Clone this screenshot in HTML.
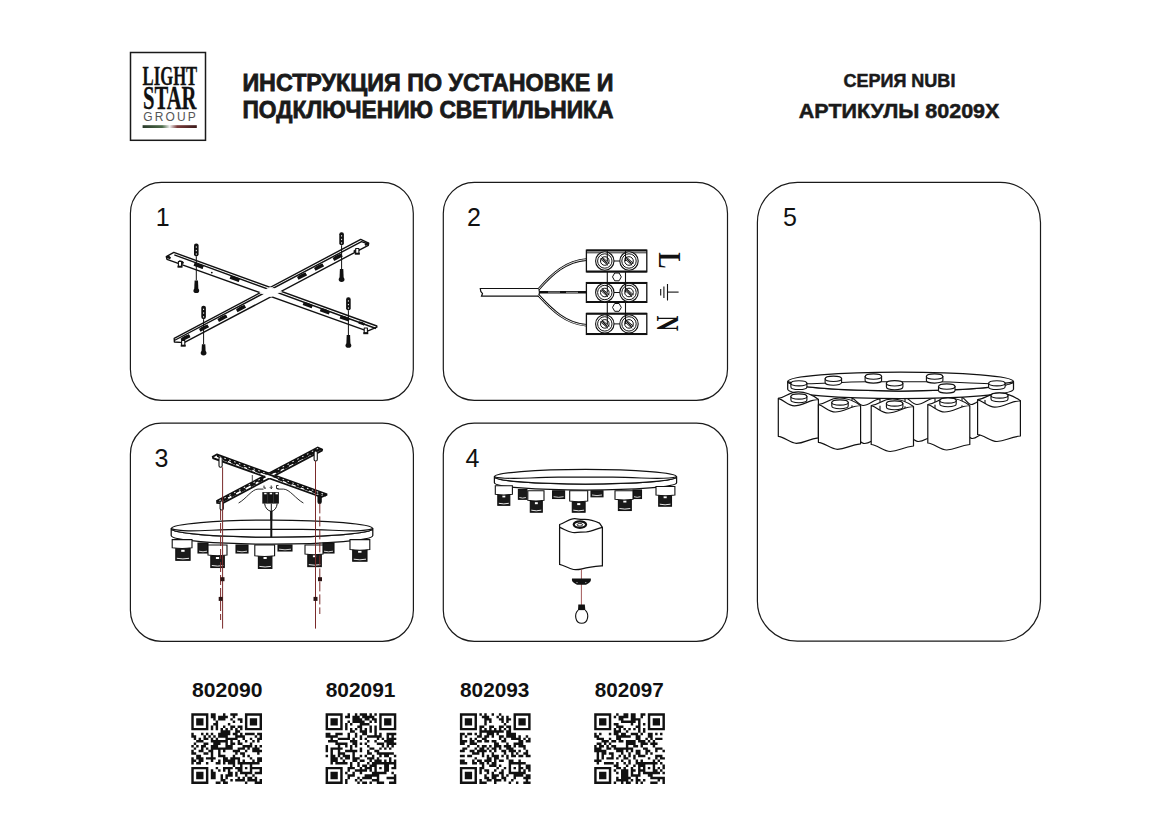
<!DOCTYPE html>
<html><head><meta charset="utf-8">
<style>
html,body{margin:0;padding:0;background:#fff;width:1169px;height:826px;overflow:hidden}
svg{display:block}
.sans{font-family:"Liberation Sans",sans-serif}
.serif{font-family:"Liberation Serif",serif}
</style></head><body>
<svg width="1169" height="826" viewBox="0 0 1169 826">
<rect x="0" y="0" width="1169" height="826" fill="#fff"/>

<g id="logo">
<rect x="130.5" y="52.5" width="75" height="87.8" fill="none" stroke="#1a1a1a" stroke-width="1.5"/>
<text class="serif" x="142.6" y="84.8" font-size="28.3" font-weight="bold" textLength="54.6" lengthAdjust="spacingAndGlyphs" fill="#111" stroke="#111" stroke-width="0.3">LIGHT</text>
<text class="serif" x="142.9" y="109.3" font-size="33" font-weight="bold" textLength="53.6" lengthAdjust="spacingAndGlyphs" fill="#111" stroke="#111" stroke-width="0.3">STAR</text>
<text class="sans" x="143.2" y="121" font-size="12" textLength="52.6" lengthAdjust="spacing" fill="#555">GROUP</text>
<defs><linearGradient id="itl" x1="0" x2="1" y1="0" y2="0">
<stop offset="0" stop-color="#2a3a2a"/><stop offset="0.36" stop-color="#4a6a48"/><stop offset="0.5" stop-color="#f0f0f0"/><stop offset="0.64" stop-color="#7a3a3a"/><stop offset="1" stop-color="#3a1a1a"/></linearGradient></defs>
<rect x="142.6" y="125.2" width="54.2" height="2.8" fill="url(#itl)"/>
</g>
<g class="sans" font-weight="bold" fill="#1a1a1a" stroke="#1a1a1a" stroke-width="0.8">
<text x="242.4" y="90.6" font-size="24" textLength="371" lengthAdjust="spacingAndGlyphs">ИНСТРУКЦИЯ ПО УСТАНОВКЕ И</text>
<text x="242.4" y="118.4" font-size="24" textLength="371" lengthAdjust="spacingAndGlyphs">ПОДКЛЮЧЕНИЮ СВЕТИЛЬНИКА</text>
</g>
<g class="sans" font-weight="bold" fill="#1a1a1a" stroke="#1a1a1a" stroke-width="0.5">
<text x="843.4" y="86.6" font-size="18" textLength="112" lengthAdjust="spacingAndGlyphs">СЕРИЯ NUBI</text>
<text x="798.8" y="118.3" font-size="20" textLength="200.6" lengthAdjust="spacingAndGlyphs">АРТИКУЛЫ 80209X</text>
</g>
<g fill="none" stroke="#1a1a1a" stroke-width="1.2">
<rect x="130.4" y="182.3" width="282.9" height="218" rx="31"/>
<rect x="443.3" y="182.3" width="284.2" height="218" rx="31"/>
<rect x="130.4" y="423.2" width="283" height="218.1" rx="31"/>
<rect x="443.3" y="423.2" width="284.2" height="218.1" rx="31"/>
<rect x="757.4" y="182.4" width="283.1" height="458.8" rx="40"/>
</g>
<g class="sans" font-size="25" fill="#111">
<text x="155.8" y="225.8">1</text>
<text x="467" y="225.8">2</text>
<text x="154.5" y="466.9">3</text>
<text x="465.5" y="466.9">4</text>
<text x="783" y="225.8">5</text>
</g>
<g id="p1" stroke="#111" stroke-linejoin="round">
<defs><mask id="p1_mA" maskUnits="userSpaceOnUse" x="0" y="0" width="1169" height="826"><rect width="1169" height="826" fill="#fff"/><polygon points="174.2,338.3 360.7,239.4 368.7,243.2 368.3,245.3 184.1,342.6 174.4,342.0" fill="#000"/></mask>
<mask id="p1_mB" maskUnits="userSpaceOnUse" x="0" y="0" width="1169" height="826"><rect width="1169" height="826" fill="#fff"/><polygon points="173.8,252.4 376.8,326.0 376.8,327.2 367.5,331.2 167.0,259.3 166.3,256.6" fill="#000"/></mask></defs>
<polygon points="173.8,252.4 376.8,326.0 376.8,327.2 367.5,331.2 167.0,259.3 166.3,256.6" fill="#fff" stroke="none"/>
<polygon points="174.2,338.3 360.7,239.4 368.7,243.2 368.3,245.3 184.1,342.6 174.4,342.0" fill="#fff" stroke="none"/>
<g mask="url(#p1_mA)" fill="none" stroke="#111" stroke-width="1.40">
<polygon points="173.8,252.4 376.8,326.0 376.8,327.2 367.5,331.2 167.0,259.3 166.3,256.6"/>
<polyline points="174.3,254.9 376.0,328.5"/>
</g>
<g mask="url(#p1_mB)" fill="none" stroke="#111" stroke-width="1.40">
<polygon points="174.2,338.3 360.7,239.4 368.7,243.2 368.3,245.3 184.1,342.6 174.4,342.0"/>
<polyline points="174.3,340.5 361.5,241.6 368.5,244.0"/>
</g>
<path d="M193.8 264.4 l3.3 -0.6 l0 0.0 l2.9 0.0 l3.3 0.6 l0 3.0 Z" transform="rotate(19.8 198.5 265.9)" fill="#111" stroke="none"/>
<rect x="193.8" y="264.3" width="9.5" height="3.2" transform="rotate(19.8 198.5 265.9)" fill="#111" stroke="none"/>
<path d="M229.9 277.4 l3.3 -0.6 l0 0.0 l2.9 0.0 l3.3 0.6 l0 3.0 Z" transform="rotate(19.8 234.7 278.9)" fill="#111" stroke="none"/>
<rect x="229.9" y="277.3" width="9.5" height="3.2" transform="rotate(19.8 234.7 278.9)" fill="#111" stroke="none"/>
<path d="M302.9 303.7 l3.3 -0.6 l0 0.0 l2.9 0.0 l3.3 0.6 l0 3.0 Z" transform="rotate(19.8 307.7 305.2)" fill="#111" stroke="none"/>
<rect x="302.9" y="303.6" width="9.5" height="3.2" transform="rotate(19.8 307.7 305.2)" fill="#111" stroke="none"/>
<path d="M320.1 309.8 l3.3 -0.6 l0 0.0 l2.9 0.0 l3.3 0.6 l0 3.0 Z" transform="rotate(19.8 324.8 311.3)" fill="#111" stroke="none"/>
<rect x="320.1" y="309.7" width="9.5" height="3.2" transform="rotate(19.8 324.8 311.3)" fill="#111" stroke="none"/>
<path d="M339.9 317.0 l3.3 -0.6 l0 0.0 l2.9 0.0 l3.3 0.6 l0 3.0 Z" transform="rotate(19.8 344.7 318.5)" fill="#111" stroke="none"/>
<rect x="339.9" y="316.9" width="9.5" height="3.2" transform="rotate(19.8 344.7 318.5)" fill="#111" stroke="none"/>
<path d="M358.5 322.5 l2.1 -0.6 l0 0.0 l1.8 0.0 l2.1 0.6 l0 2.0 Z" transform="rotate(19.8 361.5 323.5)" fill="#111" stroke="none"/>
<rect x="358.5" y="322.4" width="6.0" height="2.2" transform="rotate(19.8 361.5 323.5)" fill="#111" stroke="none"/>
<path d="M166.5 256.5 l1.4 -0.6 l0 0.0 l1.2 0.0 l1.4 0.6 l0 2.0 Z" transform="rotate(19.8 168.5 257.5)" fill="#111" stroke="none"/>
<rect x="166.5" y="256.4" width="4.0" height="2.2" transform="rotate(19.8 168.5 257.5)" fill="#111" stroke="none"/>
<path d="M178.5 261.3 l1.8 -0.6 l0 0.0 l1.5 0.0 l1.8 0.6 l0 1.8 Z" transform="rotate(19.8 181.0 262.2)" fill="#111" stroke="none"/>
<rect x="178.5" y="261.2" width="5.0" height="2.0" transform="rotate(19.8 181.0 262.2)" fill="#111" stroke="none"/>
<path d="M180.7 336.5 l3.3 -0.6 l0 0.0 l2.9 0.0 l3.3 0.6 l0 3.0 Z" transform="rotate(-27.9 185.4 338.0)" fill="#111" stroke="none"/>
<rect x="180.7" y="336.4" width="9.5" height="3.2" transform="rotate(-27.9 185.4 338.0)" fill="#111" stroke="none"/>
<path d="M199.2 326.7 l3.3 -0.6 l0 0.0 l2.9 0.0 l3.3 0.6 l0 3.0 Z" transform="rotate(-27.9 203.9 328.2)" fill="#111" stroke="none"/>
<rect x="199.2" y="326.6" width="9.5" height="3.2" transform="rotate(-27.9 203.9 328.2)" fill="#111" stroke="none"/>
<path d="M217.7 316.9 l3.3 -0.6 l0 0.0 l2.9 0.0 l3.3 0.6 l0 3.0 Z" transform="rotate(-27.9 222.4 318.4)" fill="#111" stroke="none"/>
<rect x="217.7" y="316.8" width="9.5" height="3.2" transform="rotate(-27.9 222.4 318.4)" fill="#111" stroke="none"/>
<path d="M236.2 307.1 l3.3 -0.6 l0 0.0 l2.9 0.0 l3.3 0.6 l0 3.0 Z" transform="rotate(-27.9 240.9 308.6)" fill="#111" stroke="none"/>
<rect x="236.2" y="307.0" width="9.5" height="3.2" transform="rotate(-27.9 240.9 308.6)" fill="#111" stroke="none"/>
<path d="M297.2 274.7 l3.3 -0.6 l0 0.0 l2.9 0.0 l3.3 0.6 l0 3.0 Z" transform="rotate(-27.9 302.0 276.2)" fill="#111" stroke="none"/>
<rect x="297.2" y="274.6" width="9.5" height="3.2" transform="rotate(-27.9 302.0 276.2)" fill="#111" stroke="none"/>
<path d="M314.2 265.7 l3.3 -0.6 l0 0.0 l2.9 0.0 l3.3 0.6 l0 3.0 Z" transform="rotate(-27.9 319.0 267.2)" fill="#111" stroke="none"/>
<rect x="314.2" y="265.6" width="9.5" height="3.2" transform="rotate(-27.9 319.0 267.2)" fill="#111" stroke="none"/>
<path d="M332.9 255.8 l3.3 -0.6 l0 0.0 l2.9 0.0 l3.3 0.6 l0 3.0 Z" transform="rotate(-27.9 337.6 257.3)" fill="#111" stroke="none"/>
<rect x="332.9" y="255.7" width="9.5" height="3.2" transform="rotate(-27.9 337.6 257.3)" fill="#111" stroke="none"/>
<path d="M353.5 249.5 l2.1 -0.6 l0 0.0 l1.8 0.0 l2.1 0.6 l0 2.0 Z" transform="rotate(-27.9 356.5 250.5)" fill="#111" stroke="none"/>
<rect x="353.5" y="249.4" width="6.0" height="2.2" transform="rotate(-27.9 356.5 250.5)" fill="#111" stroke="none"/>
<path d="M364.8 243.3 l1.4 -0.6 l0 0.0 l1.2 0.0 l1.4 0.6 l0 1.8 Z" transform="rotate(-27.9 366.8 244.2)" fill="#111" stroke="none"/>
<rect x="364.8" y="243.2" width="4.0" height="2.0" transform="rotate(-27.9 366.8 244.2)" fill="#111" stroke="none"/>
<circle cx="211.8" cy="272.6" r="0.9" fill="#111" stroke="none"/>
<rect x="178.4" y="261.5" width="3.2" height="5" fill="#fff" stroke-width="1.1"/>
<rect x="177.5" y="265.7" width="5" height="2" fill="#111" stroke="none"/>
<rect x="364.2" y="328.0" width="3.2" height="5" fill="#fff" stroke-width="1.1"/>
<rect x="363.3" y="332.2" width="5" height="2" fill="#111" stroke="none"/>
<rect x="181.6" y="340.5" width="3.2" height="5" fill="#fff" stroke-width="1.1"/>
<rect x="180.7" y="344.7" width="5" height="2" fill="#111" stroke="none"/>
<rect x="355.7" y="248.5" width="3.2" height="5" fill="#fff" stroke-width="1.1"/>
<rect x="354.8" y="252.7" width="5" height="2" fill="#111" stroke="none"/>
<line x1="196.3" y1="256.4" x2="196.3" y2="280.4" stroke-width="1"/>
<rect x="194.0" y="243.4" width="4.6" height="13.0" rx="2.1" fill="#111" stroke="none"/>
<rect x="195.8" y="246.4" width="1" height="1.3" fill="#fff" stroke="none"/>
<rect x="195.8" y="249.9" width="1" height="1.3" fill="#fff" stroke="none"/>
<rect x="195.8" y="253.4" width="1" height="1.3" fill="#fff" stroke="none"/>
<path d="M194.6 280.4 L198.0 280.4 L198.4 290.0 L194.2 290.0 Z" fill="#111" stroke="none"/>
<ellipse cx="196.3" cy="290.8" rx="2.9" ry="2.3" fill="#111" stroke="none"/>
<line x1="341.6" y1="245.3" x2="341.6" y2="269.0" stroke-width="1"/>
<rect x="339.3" y="232.2" width="4.6" height="13.1" rx="2.1" fill="#111" stroke="none"/>
<rect x="341.1" y="235.2" width="1" height="1.3" fill="#fff" stroke="none"/>
<rect x="341.1" y="238.8" width="1" height="1.3" fill="#fff" stroke="none"/>
<rect x="341.1" y="242.3" width="1" height="1.3" fill="#fff" stroke="none"/>
<path d="M339.9 269.0 L343.3 269.0 L343.7 278.8 L339.5 278.8 Z" fill="#111" stroke="none"/>
<ellipse cx="341.6" cy="279.6" rx="2.9" ry="2.3" fill="#111" stroke="none"/>
<line x1="203.6" y1="319.2" x2="203.6" y2="344.2" stroke-width="1"/>
<rect x="201.3" y="305.7" width="4.6" height="13.5" rx="2.1" fill="#111" stroke="none"/>
<rect x="203.1" y="308.7" width="1" height="1.3" fill="#fff" stroke="none"/>
<rect x="203.1" y="312.4" width="1" height="1.3" fill="#fff" stroke="none"/>
<rect x="203.1" y="316.2" width="1" height="1.3" fill="#fff" stroke="none"/>
<path d="M201.9 344.2 L205.3 344.2 L205.7 352.3 L201.5 352.3 Z" fill="#111" stroke="none"/>
<ellipse cx="203.6" cy="353.1" rx="2.9" ry="2.3" fill="#111" stroke="none"/>
<line x1="348.4" y1="310.4" x2="348.4" y2="335.0" stroke-width="1"/>
<rect x="346.1" y="297.3" width="4.6" height="13.1" rx="2.1" fill="#111" stroke="none"/>
<rect x="347.9" y="300.3" width="1" height="1.3" fill="#fff" stroke="none"/>
<rect x="347.9" y="303.9" width="1" height="1.3" fill="#fff" stroke="none"/>
<rect x="347.9" y="307.4" width="1" height="1.3" fill="#fff" stroke="none"/>
<path d="M346.7 335.0 L350.1 335.0 L350.5 344.7 L346.3 344.7 Z" fill="#111" stroke="none"/>
<ellipse cx="348.4" cy="345.5" rx="2.9" ry="2.3" fill="#111" stroke="none"/>
</g>
<g id="p2" stroke="#111" fill="none">
<path d="M480.3 288.5 L538.4 288.5 Q540.5 292.3 538.4 296.2 L481.5 296.2 L482.5 293.5 L480.8 291.5 Z" fill="#fff" stroke-width="1.2"/>
<path d="M538.4 289.5 C552 274 566 261 586.4 259.6" stroke-width="2.6"/>
<path d="M538.4 289.5 C552 274 566 261 586.4 259.6" stroke="#fff" stroke-width="0.9"/>
<path d="M538.4 295.2 C552 310 566 324 586.4 325.3" stroke-width="2.6"/>
<path d="M538.4 295.2 C552 310 566 324 586.4 325.3" stroke="#fff" stroke-width="0.9"/>
<path d="M539.5 292.2 L586.4 292.2" stroke-width="2.6"/>
<path d="M548 292.1 L560 292.1 M566 292.3 L578 292.3" stroke="#fff" stroke-width="0.6"/>
<rect x="607.3" y="261" width="18.2" height="62.3" fill="#fff" stroke-width="1.1"/>
<path d="M612.5 276.9 l2.2 -3.9 l4.4 0 l2.2 3.9 l-2.2 3.9 l-4.4 0 Z" stroke-width="1"/>
<path d="M612.5 307.4 l2.2 -3.9 l4.4 0 l2.2 3.9 l-2.2 3.9 l-4.4 0 Z" stroke-width="1"/>
<rect x="586.4" y="250.2" width="60.4" height="21.6" fill="#fff" stroke-width="1.3"/>
<line x1="586.4" y1="250.5" x2="646.8" y2="250.5" stroke-width="2"/>
<line x1="586.4" y1="271.5" x2="646.8" y2="271.5" stroke-width="2"/>
<line x1="586.4" y1="252.8" x2="646.8" y2="252.8" stroke-width="0.9"/>
<circle cx="604.8" cy="261.0" r="9.2" fill="#fff" stroke-width="1.1"/>
<circle cx="604.8" cy="261.0" r="7.2" stroke-width="1"/>
<circle cx="604.8" cy="261.0" r="4.3" stroke-width="1"/>
<path d="M600.2 258.6 L608.0 265.4 M601.6 256.6 L609.4 263.4" stroke-width="0.9"/>
<path d="M602.2 258.4 L607.4 263.6" stroke-width="1.3"/>
<circle cx="629.0" cy="261.0" r="9.2" fill="#fff" stroke-width="1.1"/>
<circle cx="629.0" cy="261.0" r="7.2" stroke-width="1"/>
<circle cx="629.0" cy="261.0" r="4.3" stroke-width="1"/>
<path d="M624.4 258.6 L632.2 265.4 M625.8 256.6 L633.6 263.4" stroke-width="0.9"/>
<path d="M626.4 258.4 L631.6 263.6" stroke-width="1.3"/>
<line x1="614" y1="261.0" x2="619.8" y2="261.0" stroke-width="1"/>
<line x1="607.3" y1="250.2" x2="607.3" y2="261.0" stroke-width="1.1"/>
<line x1="625.5" y1="250.2" x2="625.5" y2="261.0" stroke-width="1.1"/>
<rect x="586.4" y="282.6" width="60.4" height="19.7" fill="#fff" stroke-width="1.3"/>
<line x1="586.4" y1="282.9" x2="646.8" y2="282.9" stroke-width="2"/>
<line x1="586.4" y1="302.0" x2="646.8" y2="302.0" stroke-width="2"/>
<circle cx="604.8" cy="292.5" r="9.2" fill="#fff" stroke-width="1.1"/>
<circle cx="604.8" cy="292.5" r="7.2" stroke-width="1"/>
<circle cx="604.8" cy="292.5" r="4.3" stroke-width="1"/>
<path d="M600.2 290.1 L608.0 296.9 M601.6 288.1 L609.4 294.9" stroke-width="0.9"/>
<path d="M602.2 289.9 L607.4 295.1" stroke-width="1.3"/>
<circle cx="629.0" cy="292.5" r="9.2" fill="#fff" stroke-width="1.1"/>
<circle cx="629.0" cy="292.5" r="7.2" stroke-width="1"/>
<circle cx="629.0" cy="292.5" r="4.3" stroke-width="1"/>
<path d="M624.4 290.1 L632.2 296.9 M625.8 288.1 L633.6 294.9" stroke-width="0.9"/>
<path d="M626.4 289.9 L631.6 295.1" stroke-width="1.3"/>
<line x1="614" y1="292.5" x2="619.8" y2="292.5" stroke-width="1"/>
<line x1="607.3" y1="282.6" x2="607.3" y2="292.5" stroke-width="1.1"/>
<line x1="625.5" y1="282.6" x2="625.5" y2="292.5" stroke-width="1.1"/>
<rect x="586.4" y="313.5" width="60.4" height="20.9" fill="#fff" stroke-width="1.3"/>
<line x1="586.4" y1="313.8" x2="646.8" y2="313.8" stroke-width="2"/>
<line x1="586.4" y1="334.1" x2="646.8" y2="334.1" stroke-width="2"/>
<circle cx="604.8" cy="323.9" r="9.2" fill="#fff" stroke-width="1.1"/>
<circle cx="604.8" cy="323.9" r="7.2" stroke-width="1"/>
<circle cx="604.8" cy="323.9" r="4.3" stroke-width="1"/>
<path d="M600.2 321.6 L608.0 328.3 M601.6 319.6 L609.4 326.3" stroke-width="0.9"/>
<path d="M602.2 321.3 L607.4 326.6" stroke-width="1.3"/>
<circle cx="629.0" cy="323.9" r="9.2" fill="#fff" stroke-width="1.1"/>
<circle cx="629.0" cy="323.9" r="7.2" stroke-width="1"/>
<circle cx="629.0" cy="323.9" r="4.3" stroke-width="1"/>
<path d="M624.4 321.6 L632.2 328.3 M625.8 319.6 L633.6 326.3" stroke-width="0.9"/>
<path d="M626.4 321.3 L631.6 326.6" stroke-width="1.3"/>
<line x1="614" y1="323.9" x2="619.8" y2="323.9" stroke-width="1"/>
<line x1="607.3" y1="313.5" x2="607.3" y2="323.9" stroke-width="1.1"/>
<line x1="625.5" y1="313.5" x2="625.5" y2="323.9" stroke-width="1.1"/>
</g>
<g class="serif" font-weight="bold" fill="#111">
<text x="0" y="0" font-size="28" transform="translate(658.6 252.2) rotate(90) scale(0.87 1.1)">L</text>
<text x="0" y="0" font-size="28" transform="translate(657.4 315.6) rotate(90) scale(0.77 1.13)">N</text>
</g>
<g stroke="#111" stroke-width="1.1"><line x1="660.7" y1="289" x2="660.7" y2="295.5"/><line x1="663.9" y1="286.5" x2="663.9" y2="298"/><line x1="667.5" y1="284" x2="667.5" y2="300.5"/><line x1="667.5" y1="292.1" x2="678.6" y2="292.1"/></g>
<g id="p3">
<g transform="translate(269.5 475.6) scale(0.54) translate(-271.3 -291.5)">
<defs><mask id="p3_mA" maskUnits="userSpaceOnUse" x="0" y="0" width="1169" height="826"><rect width="1169" height="826" fill="#fff"/><polygon points="174.2,338.3 360.7,239.4 368.7,243.2 368.3,245.3 184.1,342.6 174.4,342.0" fill="#000"/></mask>
<mask id="p3_mB" maskUnits="userSpaceOnUse" x="0" y="0" width="1169" height="826"><rect width="1169" height="826" fill="#fff"/><polygon points="173.8,252.4 376.8,326.0 376.8,327.2 367.5,331.2 167.0,259.3 166.3,256.6" fill="#000"/></mask></defs>
<polygon points="173.8,252.4 376.8,326.0 376.8,327.2 367.5,331.2 167.0,259.3 166.3,256.6" fill="#fff" stroke="none"/>
<polygon points="174.2,338.3 360.7,239.4 368.7,243.2 368.3,245.3 184.1,342.6 174.4,342.0" fill="#fff" stroke="none"/>
<g mask="url(#p3_mA)" fill="none" stroke="#111" stroke-width="3.40">
<polygon points="173.8,252.4 376.8,326.0 376.8,327.2 367.5,331.2 167.0,259.3 166.3,256.6"/>
<polyline points="174.3,254.9 376.0,328.5"/>
</g>
<g mask="url(#p3_mB)" fill="none" stroke="#111" stroke-width="3.40">
<polygon points="174.2,338.3 360.7,239.4 368.7,243.2 368.3,245.3 184.1,342.6 174.4,342.0"/>
<polyline points="174.3,340.5 361.5,241.6 368.5,244.0"/>
</g>
<polygon points="173.8,252.4 376.8,326.0 376.0,329.5 174.3,256.5" fill="#111"/>
<polygon points="174.2,338.3 263.0,291.2 264.0,294.5 174.3,342.0" fill="#111"/>
<polygon points="279.0,283.0 360.7,239.4 368.7,243.2 280.0,286.5" fill="#111"/>
<path d="M185.0 260.9 l3.5 -0.6 l0 0.0 l3.0 0.0 l3.5 0.6 l0 3.8 Z" transform="rotate(19.8 190.0 262.8)" fill="#111" stroke="none"/>
<rect x="185.0" y="260.8" width="10.0" height="4.0" transform="rotate(19.8 190.0 262.8)" fill="#111" stroke="none"/>
<path d="M200.0 266.3 l3.5 -0.6 l0 0.0 l3.0 0.0 l3.5 0.6 l0 3.8 Z" transform="rotate(19.8 205.0 268.2)" fill="#111" stroke="none"/>
<rect x="200.0" y="266.2" width="10.0" height="4.0" transform="rotate(19.8 205.0 268.2)" fill="#111" stroke="none"/>
<path d="M215.0 271.7 l3.5 -0.6 l0 0.0 l3.0 0.0 l3.5 0.6 l0 3.8 Z" transform="rotate(19.8 220.0 273.6)" fill="#111" stroke="none"/>
<rect x="215.0" y="271.6" width="10.0" height="4.0" transform="rotate(19.8 220.0 273.6)" fill="#111" stroke="none"/>
<path d="M230.0 277.1 l3.5 -0.6 l0 0.0 l3.0 0.0 l3.5 0.6 l0 3.8 Z" transform="rotate(19.8 235.0 279.0)" fill="#111" stroke="none"/>
<rect x="230.0" y="277.0" width="10.0" height="4.0" transform="rotate(19.8 235.0 279.0)" fill="#111" stroke="none"/>
<path d="M245.0 282.5 l3.5 -0.6 l0 0.0 l3.0 0.0 l3.5 0.6 l0 3.8 Z" transform="rotate(19.8 250.0 284.4)" fill="#111" stroke="none"/>
<rect x="245.0" y="282.4" width="10.0" height="4.0" transform="rotate(19.8 250.0 284.4)" fill="#111" stroke="none"/>
<path d="M287.0 297.6 l3.5 -0.6 l0 0.0 l3.0 0.0 l3.5 0.6 l0 3.8 Z" transform="rotate(19.8 292.0 299.5)" fill="#111" stroke="none"/>
<rect x="287.0" y="297.5" width="10.0" height="4.0" transform="rotate(19.8 292.0 299.5)" fill="#111" stroke="none"/>
<path d="M302.7 303.3 l3.5 -0.6 l0 0.0 l3.0 0.0 l3.5 0.6 l0 3.8 Z" transform="rotate(19.8 307.7 305.2)" fill="#111" stroke="none"/>
<rect x="302.7" y="303.2" width="10.0" height="4.0" transform="rotate(19.8 307.7 305.2)" fill="#111" stroke="none"/>
<path d="M319.8 309.4 l3.5 -0.6 l0 0.0 l3.0 0.0 l3.5 0.6 l0 3.8 Z" transform="rotate(19.8 324.8 311.3)" fill="#111" stroke="none"/>
<rect x="319.8" y="309.3" width="10.0" height="4.0" transform="rotate(19.8 324.8 311.3)" fill="#111" stroke="none"/>
<path d="M335.0 314.9 l3.5 -0.6 l0 0.0 l3.0 0.0 l3.5 0.6 l0 3.8 Z" transform="rotate(19.8 340.0 316.8)" fill="#111" stroke="none"/>
<rect x="335.0" y="314.8" width="10.0" height="4.0" transform="rotate(19.8 340.0 316.8)" fill="#111" stroke="none"/>
<path d="M350.0 320.3 l3.5 -0.6 l0 0.0 l3.0 0.0 l3.5 0.6 l0 3.8 Z" transform="rotate(19.8 355.0 322.2)" fill="#111" stroke="none"/>
<rect x="350.0" y="320.2" width="10.0" height="4.0" transform="rotate(19.8 355.0 322.2)" fill="#111" stroke="none"/>
<path d="M185.0 333.7 l3.5 -0.6 l0 0.0 l3.0 0.0 l3.5 0.6 l0 3.8 Z" transform="rotate(-27.9 190.0 335.6)" fill="#111" stroke="none"/>
<rect x="185.0" y="333.6" width="10.0" height="4.0" transform="rotate(-27.9 190.0 335.6)" fill="#111" stroke="none"/>
<path d="M200.0 325.7 l3.5 -0.6 l0 0.0 l3.0 0.0 l3.5 0.6 l0 3.8 Z" transform="rotate(-27.9 205.0 327.6)" fill="#111" stroke="none"/>
<rect x="200.0" y="325.6" width="10.0" height="4.0" transform="rotate(-27.9 205.0 327.6)" fill="#111" stroke="none"/>
<path d="M217.4 316.5 l3.5 -0.6 l0 0.0 l3.0 0.0 l3.5 0.6 l0 3.8 Z" transform="rotate(-27.9 222.4 318.4)" fill="#111" stroke="none"/>
<rect x="217.4" y="316.4" width="10.0" height="4.0" transform="rotate(-27.9 222.4 318.4)" fill="#111" stroke="none"/>
<path d="M235.9 306.7 l3.5 -0.6 l0 0.0 l3.0 0.0 l3.5 0.6 l0 3.8 Z" transform="rotate(-27.9 240.9 308.6)" fill="#111" stroke="none"/>
<rect x="235.9" y="306.6" width="10.0" height="4.0" transform="rotate(-27.9 240.9 308.6)" fill="#111" stroke="none"/>
<path d="M250.0 299.2 l3.5 -0.6 l0 0.0 l3.0 0.0 l3.5 0.6 l0 3.8 Z" transform="rotate(-27.9 255.0 301.1)" fill="#111" stroke="none"/>
<rect x="250.0" y="299.1" width="10.0" height="4.0" transform="rotate(-27.9 255.0 301.1)" fill="#111" stroke="none"/>
<path d="M282.0 282.2 l3.5 -0.6 l0 0.0 l3.0 0.0 l3.5 0.6 l0 3.8 Z" transform="rotate(-27.9 287.0 284.1)" fill="#111" stroke="none"/>
<rect x="282.0" y="282.1" width="10.0" height="4.0" transform="rotate(-27.9 287.0 284.1)" fill="#111" stroke="none"/>
<path d="M297.0 274.3 l3.5 -0.6 l0 0.0 l3.0 0.0 l3.5 0.6 l0 3.8 Z" transform="rotate(-27.9 302.0 276.2)" fill="#111" stroke="none"/>
<rect x="297.0" y="274.2" width="10.0" height="4.0" transform="rotate(-27.9 302.0 276.2)" fill="#111" stroke="none"/>
<path d="M314.0 265.3 l3.5 -0.6 l0 0.0 l3.0 0.0 l3.5 0.6 l0 3.8 Z" transform="rotate(-27.9 319.0 267.2)" fill="#111" stroke="none"/>
<rect x="314.0" y="265.2" width="10.0" height="4.0" transform="rotate(-27.9 319.0 267.2)" fill="#111" stroke="none"/>
<path d="M332.6 255.4 l3.5 -0.6 l0 0.0 l3.0 0.0 l3.5 0.6 l0 3.8 Z" transform="rotate(-27.9 337.6 257.3)" fill="#111" stroke="none"/>
<rect x="332.6" y="255.3" width="10.0" height="4.0" transform="rotate(-27.9 337.6 257.3)" fill="#111" stroke="none"/>
<path d="M347.0 247.8 l3.5 -0.6 l0 0.0 l3.0 0.0 l3.5 0.6 l0 3.8 Z" transform="rotate(-27.9 352.0 249.7)" fill="#111" stroke="none"/>
<rect x="347.0" y="247.7" width="10.0" height="4.0" transform="rotate(-27.9 352.0 249.7)" fill="#111" stroke="none"/>
<rect x="178.5" y="255.7" width="3" height="1.6" fill="#fff" transform="rotate(19.8 180.0 256.5)"/>
<rect x="187.5" y="259.0" width="3" height="1.6" fill="#fff" transform="rotate(19.8 189.0 259.8)"/>
<rect x="196.5" y="262.3" width="3" height="1.6" fill="#fff" transform="rotate(19.8 198.0 263.1)"/>
<rect x="205.5" y="265.5" width="3" height="1.6" fill="#fff" transform="rotate(19.8 207.0 266.3)"/>
<rect x="214.5" y="268.8" width="3" height="1.6" fill="#fff" transform="rotate(19.8 216.0 269.6)"/>
<rect x="223.5" y="272.1" width="3" height="1.6" fill="#fff" transform="rotate(19.8 225.0 272.9)"/>
<rect x="232.5" y="275.3" width="3" height="1.6" fill="#fff" transform="rotate(19.8 234.0 276.1)"/>
<rect x="241.5" y="278.6" width="3" height="1.6" fill="#fff" transform="rotate(19.8 243.0 279.4)"/>
<rect x="250.5" y="281.8" width="3" height="1.6" fill="#fff" transform="rotate(19.8 252.0 282.6)"/>
<rect x="259.5" y="285.1" width="3" height="1.6" fill="#fff" transform="rotate(19.8 261.0 285.9)"/>
<rect x="286.5" y="294.9" width="3" height="1.6" fill="#fff" transform="rotate(19.8 288.0 295.7)"/>
<rect x="295.5" y="298.2" width="3" height="1.6" fill="#fff" transform="rotate(19.8 297.0 299.0)"/>
<rect x="304.5" y="301.4" width="3" height="1.6" fill="#fff" transform="rotate(19.8 306.0 302.2)"/>
<rect x="313.5" y="304.7" width="3" height="1.6" fill="#fff" transform="rotate(19.8 315.0 305.5)"/>
<rect x="322.5" y="307.9" width="3" height="1.6" fill="#fff" transform="rotate(19.8 324.0 308.7)"/>
<rect x="331.5" y="311.2" width="3" height="1.6" fill="#fff" transform="rotate(19.8 333.0 312.0)"/>
<rect x="340.5" y="314.5" width="3" height="1.6" fill="#fff" transform="rotate(19.8 342.0 315.3)"/>
<rect x="349.5" y="317.7" width="3" height="1.6" fill="#fff" transform="rotate(19.8 351.0 318.5)"/>
<rect x="358.5" y="321.0" width="3" height="1.6" fill="#fff" transform="rotate(19.8 360.0 321.8)"/>
<rect x="367.5" y="324.3" width="3" height="1.6" fill="#fff" transform="rotate(19.8 369.0 325.1)"/>
<rect x="178.5" y="336.3" width="3" height="1.6" fill="#fff" transform="rotate(-27.9 180.0 337.1)"/>
<rect x="187.5" y="331.6" width="3" height="1.6" fill="#fff" transform="rotate(-27.9 189.0 332.4)"/>
<rect x="196.5" y="326.8" width="3" height="1.6" fill="#fff" transform="rotate(-27.9 198.0 327.6)"/>
<rect x="205.5" y="322.0" width="3" height="1.6" fill="#fff" transform="rotate(-27.9 207.0 322.8)"/>
<rect x="214.5" y="317.2" width="3" height="1.6" fill="#fff" transform="rotate(-27.9 216.0 318.0)"/>
<rect x="223.5" y="312.5" width="3" height="1.6" fill="#fff" transform="rotate(-27.9 225.0 313.3)"/>
<rect x="232.5" y="307.7" width="3" height="1.6" fill="#fff" transform="rotate(-27.9 234.0 308.5)"/>
<rect x="241.5" y="302.9" width="3" height="1.6" fill="#fff" transform="rotate(-27.9 243.0 303.7)"/>
<rect x="250.5" y="298.2" width="3" height="1.6" fill="#fff" transform="rotate(-27.9 252.0 299.0)"/>
<rect x="286.5" y="279.1" width="3" height="1.6" fill="#fff" transform="rotate(-27.9 288.0 279.9)"/>
<rect x="295.5" y="274.3" width="3" height="1.6" fill="#fff" transform="rotate(-27.9 297.0 275.1)"/>
<rect x="304.5" y="269.5" width="3" height="1.6" fill="#fff" transform="rotate(-27.9 306.0 270.3)"/>
<rect x="313.5" y="264.8" width="3" height="1.6" fill="#fff" transform="rotate(-27.9 315.0 265.6)"/>
<rect x="322.5" y="260.0" width="3" height="1.6" fill="#fff" transform="rotate(-27.9 324.0 260.8)"/>
<rect x="331.5" y="255.2" width="3" height="1.6" fill="#fff" transform="rotate(-27.9 333.0 256.0)"/>
<rect x="340.5" y="250.5" width="3" height="1.6" fill="#fff" transform="rotate(-27.9 342.0 251.3)"/>
<rect x="349.5" y="245.7" width="3" height="1.6" fill="#fff" transform="rotate(-27.9 351.0 246.5)"/>
<rect x="358.5" y="240.9" width="3" height="1.6" fill="#fff" transform="rotate(-27.9 360.0 241.7)"/>
</g>
<rect x="219.0" y="456.7" width="3.2" height="10.6" rx="1.5" fill="#fff" stroke="#111" stroke-width="1.1"/>
<rect x="314.1" y="451.0" width="3.2" height="10.0" rx="1.5" fill="#fff" stroke="#111" stroke-width="1.1"/>
<rect x="220.1" y="501.0" width="3.2" height="9.0" rx="1.5" fill="#fff" stroke="#111" stroke-width="1.1"/>
<rect x="318.0" y="494.5" width="3.2" height="8.9" rx="1.5" fill="#111" stroke="#111" stroke-width="1.1"/>
<line x1="252.3" y1="475" x2="252.3" y2="481" stroke="#111" stroke-width="0.8"/>
<path d="M238.6 503 C246 499 252 489.1 258 489.1 L263.5 489.1" fill="none" stroke="#111" stroke-width="0.9"/>
<path d="M303.4 503 C296 499 289.5 489.1 283.5 489.1 L277.4 489.1" fill="none" stroke="#111" stroke-width="0.9"/>
<rect x="262.3" y="492.1" width="16.6" height="11.5" fill="#151515"/>
<rect x="264.2" y="492.8" width="2.4" height="1.5" fill="#fff"/>
<rect x="269.7" y="492.8" width="2.4" height="1.5" fill="#fff"/>
<rect x="275.5" y="492.8" width="2.4" height="1.5" fill="#fff"/>
<line x1="267.6" y1="492.1" x2="267.6" y2="503.6" stroke="#555" stroke-width="0.5"/><line x1="273.5" y1="492.1" x2="273.5" y2="503.6" stroke="#555" stroke-width="0.5"/>
<path d="M264 485.6 l0 2.5 l2 0 M271.2 485.5 l0 3 m-1.3 -1.2 l1.3 1.3 l1.3 -1.3 M276.5 485.5 l0 3 l2 0 M276.5 485.5 l2 0" fill="none" stroke="#111" stroke-width="0.9"/>
<path d="M264.6 503.6 Q265.5 510 271.3 511.5 M277.2 503.6 Q276.5 510 271.3 511.5 M271.3 503.6 L271.3 511.5" fill="none" stroke="#111" stroke-width="1"/>
<line x1="271.3" y1="511" x2="271.3" y2="537" stroke="#111" stroke-width="2"/>
<path d="M171.2 528.6 A100.8 8.6 0 0 0 372.8 528.6 L372.8 535.6 A100.8 8.6 0 0 1 171.2 535.6 Z" fill="#fff" stroke="#111" stroke-width="1.25"/>
<ellipse cx="272.0" cy="528.6" rx="100.8" ry="8.6" fill="#fff" stroke="#111" stroke-width="1.25"/>
<path d="M171.2 528.6 C185.3 533.2 209.5 529.4 241.8 529.4 L302.2 529.4 C334.5 529.4 358.7 533.2 372.8 528.6" fill="none" stroke="#111" stroke-width="1.12"/>
<line x1="271.3" y1="511" x2="271.3" y2="537.2" stroke="#111" stroke-width="2"/>
<rect x="198.0" y="543.0" width="10.0" height="10.0" fill="#1a1a1a" stroke="#111" stroke-width="1.10"/>
<path d="M199.0 551.2 Q203.0 552.4 207.0 551.2" fill="none" stroke="#fff" stroke-width="0.8"/>
<rect x="236.0" y="545.0" width="12.0" height="8.0" fill="#1a1a1a" stroke="#111" stroke-width="1.10"/>
<path d="M237.0 551.2 Q242.0 552.4 247.0 551.2" fill="none" stroke="#fff" stroke-width="0.8"/>
<rect x="278.0" y="545.0" width="14.0" height="6.0" fill="#1a1a1a" stroke="#111" stroke-width="1.10"/>
<path d="M279.0 549.2 Q285.0 550.4 291.0 549.2" fill="none" stroke="#fff" stroke-width="0.8"/>
<rect x="323.0" y="543.0" width="11.0" height="10.0" fill="#1a1a1a" stroke="#111" stroke-width="1.10"/>
<path d="M324.0 551.2 Q328.5 552.4 333.0 551.2" fill="none" stroke="#fff" stroke-width="0.8"/>
<rect x="175.8" y="548.6" width="14.3" height="11.7" fill="#1a1a1a" stroke="#111" stroke-width="1.10"/>
<rect x="181.2" y="549.8" width="3.4" height="2.0" fill="#fff"/>
<path d="M176.8 558.3 Q182.9 559.5 189.1 558.3" fill="none" stroke="#fff" stroke-width="0.9"/>
<path d="M172.2 539.6 L172.2 547.7 Q182.1 549.2 192.0 547.7 L192.0 539.6 Z" fill="#fff" stroke="#111" stroke-width="1.10"/>
<rect x="210.8" y="555.8" width="13.5" height="11.7" fill="#1a1a1a" stroke="#111" stroke-width="1.10"/>
<rect x="215.9" y="557.0" width="3.2" height="2.0" fill="#fff"/>
<path d="M211.8 565.5 Q217.6 566.7 223.3 565.5" fill="none" stroke="#fff" stroke-width="0.9"/>
<path d="M208.0 545.0 L208.0 555.0 Q217.5 556.5 227.0 555.0 L227.0 545.0 Z" fill="#fff" stroke="#111" stroke-width="1.10"/>
<rect x="258.4" y="555.8" width="13.5" height="12.6" fill="#1a1a1a" stroke="#111" stroke-width="1.10"/>
<rect x="263.5" y="557.0" width="3.2" height="2.0" fill="#fff"/>
<path d="M259.4 566.4 Q265.1 567.6 270.9 566.4" fill="none" stroke="#fff" stroke-width="0.9"/>
<path d="M254.8 545.0 L254.8 555.8 Q264.7 557.3 274.6 555.8 L274.6 545.0 Z" fill="#fff" stroke="#111" stroke-width="1.10"/>
<rect x="307.8" y="554.0" width="13.5" height="12.6" fill="#1a1a1a" stroke="#111" stroke-width="1.10"/>
<rect x="312.9" y="555.2" width="3.2" height="2.0" fill="#fff"/>
<path d="M308.8 564.6 Q314.6 565.8 320.3 564.6" fill="none" stroke="#fff" stroke-width="0.9"/>
<path d="M305.0 545.0 L305.0 554.0 Q314.0 555.5 323.0 554.0 L323.0 545.0 Z" fill="#fff" stroke="#111" stroke-width="1.10"/>
<rect x="352.7" y="549.5" width="14.3" height="11.7" fill="#1a1a1a" stroke="#111" stroke-width="1.10"/>
<rect x="358.1" y="550.7" width="3.4" height="2.0" fill="#fff"/>
<path d="M353.7 559.2 Q359.9 560.4 366.0 559.2" fill="none" stroke="#fff" stroke-width="0.9"/>
<path d="M350.0 539.6 L350.0 549.5 Q359.9 551.0 369.8 549.5 L369.8 539.6 Z" fill="#fff" stroke="#111" stroke-width="1.10"/>
<g stroke="#7a2a2a" stroke-width="1">
<line x1="222.6" y1="467.3" x2="222.6" y2="628.6"/>
<line x1="220.6" y1="510" x2="220.6" y2="620" stroke-dasharray="10 3"/>
<line x1="315.5" y1="461" x2="315.5" y2="628.6"/>
<line x1="319.8" y1="503.4" x2="319.8" y2="614" stroke-dasharray="10 3"/>
</g>
<rect x="220.5" y="577.2" width="4" height="4" fill="#2a1212"/>
<rect x="218.7" y="596.9" width="4" height="4" fill="#2a1212"/>
<rect x="318.0" y="577.2" width="4" height="4" fill="#2a1212"/>
<rect x="313.5" y="596.9" width="4" height="4" fill="#2a1212"/>
</g>
<g id="p4">
<path d="M494.4 476.7 A91.1 7.3 0 0 0 676.6 476.7 L676.6 482.7 A91.1 7.3 0 0 1 494.4 482.7 Z" fill="#fff" stroke="#111" stroke-width="1.25"/>
<ellipse cx="585.5" cy="476.7" rx="91.1" ry="7.3" fill="#fff" stroke="#111" stroke-width="1.25"/>
<path d="M494.4 476.7 C507.2 480.6 529.0 477.1 558.2 477.1 L612.8 477.1 C642.0 477.1 663.8 480.6 676.6 476.7" fill="none" stroke="#111" stroke-width="1.12"/>
<rect x="518.4" y="489.5" width="8.5" height="9.8" fill="#1a1a1a" stroke="#111" stroke-width="1.10"/>
<path d="M519.4 497.5 Q522.6 498.7 525.9 497.5" fill="none" stroke="#fff" stroke-width="0.8"/>
<rect x="552.6" y="490.8" width="12.0" height="7.7" fill="#1a1a1a" stroke="#111" stroke-width="1.10"/>
<path d="M553.6 496.7 Q558.6 497.9 563.6 496.7" fill="none" stroke="#fff" stroke-width="0.8"/>
<rect x="591.0" y="490.8" width="12.0" height="6.0" fill="#1a1a1a" stroke="#111" stroke-width="1.10"/>
<path d="M592.0 495.0 Q597.0 496.2 602.0 495.0" fill="none" stroke="#fff" stroke-width="0.8"/>
<rect x="633.0" y="490.0" width="8.5" height="8.5" fill="#1a1a1a" stroke="#111" stroke-width="1.10"/>
<path d="M634.0 496.7 Q637.2 497.9 640.5 496.7" fill="none" stroke="#fff" stroke-width="0.8"/>
<rect x="497.8" y="494.2" width="12.0" height="11.1" fill="#1a1a1a" stroke="#111" stroke-width="1.10"/>
<rect x="502.4" y="495.4" width="2.9" height="2.0" fill="#fff"/>
<path d="M498.8 503.3 Q503.8 504.5 508.8 503.3" fill="none" stroke="#fff" stroke-width="0.9"/>
<path d="M495.3 485.7 L495.3 494.2 Q503.9 495.7 512.4 494.2 L512.4 485.7 Z" fill="#fff" stroke="#111" stroke-width="1.10"/>
<rect x="530.3" y="501.0" width="12.0" height="11.2" fill="#1a1a1a" stroke="#111" stroke-width="1.10"/>
<rect x="534.9" y="502.2" width="2.9" height="2.0" fill="#fff"/>
<path d="M531.3 510.2 Q536.3 511.4 541.3 510.2" fill="none" stroke="#fff" stroke-width="0.9"/>
<path d="M527.8 490.8 L527.8 500.2 Q535.9 501.7 544.0 500.2 L544.0 490.8 Z" fill="#fff" stroke="#111" stroke-width="1.10"/>
<rect x="572.3" y="501.9" width="12.8" height="10.3" fill="#1a1a1a" stroke="#111" stroke-width="1.10"/>
<rect x="577.2" y="503.1" width="3.1" height="2.0" fill="#fff"/>
<path d="M573.3 510.2 Q578.7 511.4 584.1 510.2" fill="none" stroke="#fff" stroke-width="0.9"/>
<path d="M569.7 490.8 L569.7 501.0 Q578.7 502.5 587.7 501.0 L587.7 490.8 Z" fill="#fff" stroke="#111" stroke-width="1.10"/>
<rect x="618.4" y="499.3" width="12.9" height="11.2" fill="#1a1a1a" stroke="#111" stroke-width="1.10"/>
<rect x="623.3" y="500.5" width="3.1" height="2.0" fill="#fff"/>
<path d="M619.4 508.5 Q624.8 509.7 630.3 508.5" fill="none" stroke="#fff" stroke-width="0.9"/>
<path d="M615.0 490.8 L615.0 499.3 Q624.0 500.8 633.0 499.3 L633.0 490.8 Z" fill="#fff" stroke="#111" stroke-width="1.10"/>
<rect x="658.7" y="495.0" width="12.8" height="11.2" fill="#1a1a1a" stroke="#111" stroke-width="1.10"/>
<rect x="663.6" y="496.2" width="3.1" height="2.0" fill="#fff"/>
<path d="M659.7 504.2 Q665.1 505.4 670.5 504.2" fill="none" stroke="#fff" stroke-width="0.9"/>
<path d="M656.0 486.5 L656.0 495.0 Q665.5 496.5 674.9 495.0 L674.9 486.5 Z" fill="#fff" stroke="#111" stroke-width="1.10"/>
<path d="M559.6 524.5 C566 522 570 518.5 574.8 518.7 C578 518.8 580 519.6 583.6 519.4 C590 519 595 521 599.5 523.1 L602.4 527.4 L602.4 565.9 C596 566.5 590 567 582.1 568.8 C578 569.8 576 569.8 573.4 569.5 C568 568 564 565.5 559.6 564.4 Z" fill="#fff" stroke="#111" stroke-width="1.25" stroke-linejoin="round"/>
<path d="M559.6 527.4 C564 529 568 532 572.7 532.5 C577 533 582 531.8 586.5 531.8 C592 531.5 597 528.5 602.4 527.4" fill="none" stroke="#111" stroke-width="1.2"/>
<ellipse cx="579.9" cy="524.6" rx="6.2" ry="3.2" fill="#fff" stroke="#111" stroke-width="2.2"/>
<ellipse cx="579.9" cy="524.8" rx="2.8" ry="1.3" fill="#fff" stroke="#111" stroke-width="0.9"/>
<line x1="581.4" y1="569.3" x2="581.4" y2="605" stroke="#8a3030" stroke-width="0.8"/>
<path d="M572 578.4 L590.8 578.4 Q591.5 581.5 588.5 583.2 L586 584.8 L577 584.8 L574.5 583.2 Q571.3 581.5 572 578.4 Z" fill="#111"/>
<path d="M576.5 582.6 l1 0 M585.3 582.6 l1 0" stroke="#fff" stroke-width="0.8"/>
<path d="M578.3 604.4 L584.8 604.4 L585.4 610.4 L578 610.4 Z" fill="#111"/>
<path d="M578.2 610.2 C574 614 575 623.3 581.7 623.3 C588.4 623.3 589.4 614 585.2 610.2" fill="#fff" stroke="#111" stroke-width="1.1"/>
</g>
<g id="p5">
<path d="M852.0 398.0 C856.2 400.0 859.0 405.5 863.2 405.5 C868.8 405.5 874.4 399.0 880.0 399.0 L880.0 438.0 C873.0 439.0 870.2 443.5 864.6 443.5 C860.4 443.5 856.2 437.0 852.0 436.5 Z" fill="#fff" stroke="#111" stroke-width="1.10" stroke-linejoin="round"/>
<path d="M905.0 397.0 C909.5 399.0 912.5 404.5 917.0 404.5 C923.0 404.5 929.0 398.0 935.0 398.0 L935.0 436.0 C927.5 437.0 924.5 441.5 918.5 441.5 C914.0 441.5 909.5 435.0 905.0 434.5 Z" fill="#fff" stroke="#111" stroke-width="1.10" stroke-linejoin="round"/>
<path d="M962.0 397.0 C965.5 399.0 967.8 404.5 971.2 404.5 C975.8 404.5 980.4 398.0 985.0 398.0 L985.0 433.0 C979.2 434.0 977.0 438.5 972.4 438.5 C968.9 438.5 965.5 432.0 962.0 431.5 Z" fill="#fff" stroke="#111" stroke-width="1.10" stroke-linejoin="round"/>
<path d="M787.7 381.6 A112.9 9.4 0 0 0 1013.5 381.6 L1013.5 389.2 A112.9 9.4 0 0 1 787.7 389.2 Z" fill="#fff" stroke="#111" stroke-width="1.25"/>
<ellipse cx="900.6" cy="381.6" rx="112.9" ry="9.4" fill="#fff" stroke="#111" stroke-width="1.25"/>
<path d="M787.7 381.6 C803.5 386.4 830.6 381.8 866.7 381.8 L934.5 381.8 C970.6 381.8 997.7 386.4 1013.5 381.6" fill="none" stroke="#111" stroke-width="1.12"/>
<path d="M825.1 378.8 L825.1 382.6 A8.2 2.7 0 0 0 841.6 382.6 L841.6 378.8 Z" fill="#fff" stroke="#111" stroke-width="1.10"/>
<ellipse cx="833.4" cy="378.8" rx="8.2" ry="2.7" fill="#fff" stroke="#111" stroke-width="1.10"/>
<path d="M865.1 376.6 L865.1 380.4 A8.2 2.7 0 0 0 881.6 380.4 L881.6 376.6 Z" fill="#fff" stroke="#111" stroke-width="1.10"/>
<ellipse cx="873.4" cy="376.6" rx="8.2" ry="2.7" fill="#fff" stroke="#111" stroke-width="1.10"/>
<path d="M926.4 376.6 L926.4 380.4 A8.2 2.7 0 0 0 942.9 380.4 L942.9 376.6 Z" fill="#fff" stroke="#111" stroke-width="1.10"/>
<ellipse cx="934.6" cy="376.6" rx="8.2" ry="2.7" fill="#fff" stroke="#111" stroke-width="1.10"/>
<path d="M790.9 383.3 L790.9 386.9 A8.0 2.6 0 0 0 806.9 386.9 L806.9 383.3 Z" fill="#fff" stroke="#111" stroke-width="1.10"/>
<ellipse cx="798.9" cy="383.3" rx="8.0" ry="2.6" fill="#fff" stroke="#111" stroke-width="1.10"/>
<path d="M886.4 383.3 L886.4 387.1 A8.2 2.7 0 0 0 902.9 387.1 L902.9 383.3 Z" fill="#fff" stroke="#111" stroke-width="1.10"/>
<ellipse cx="894.6" cy="383.3" rx="8.2" ry="2.7" fill="#fff" stroke="#111" stroke-width="1.10"/>
<path d="M938.5 386.6 L938.5 390.4 A8.2 2.7 0 0 0 955.0 390.4 L955.0 386.6 Z" fill="#fff" stroke="#111" stroke-width="1.10"/>
<ellipse cx="946.8" cy="386.6" rx="8.2" ry="2.7" fill="#fff" stroke="#111" stroke-width="1.10"/>
<path d="M988.6 383.3 L988.6 386.9 A8.2 2.6 0 0 0 1005.1 386.9 L1005.1 383.3 Z" fill="#fff" stroke="#111" stroke-width="1.10"/>
<ellipse cx="996.9" cy="383.3" rx="8.2" ry="2.6" fill="#fff" stroke="#111" stroke-width="1.10"/>
<path d="M778.3 398.4 C784.3 400.4 788.3 405.9 794.3 405.9 C802.4 405.9 810.4 399.4 818.4 399.4 L818.4 437.8 C808.4 438.8 804.4 443.3 796.3 443.3 C790.3 443.3 784.3 436.8 778.3 436.3 Z" fill="#fff" stroke="#111" stroke-width="1.20" stroke-linejoin="round"/>
<path d="M778.3 398.4 C786.3 397.4 788.3 391.9 798.3 391.9 C808.4 391.9 814.4 396.4 818.4 399.4" fill="#fff" stroke="#111" stroke-width="1.20" stroke-linejoin="round"/>
<path d="M790.9 396.5 L790.9 400.1 A8.0 2.6 0 0 0 806.9 400.1 L806.9 396.5 Z" fill="#fff" stroke="#111" stroke-width="1.10"/>
<ellipse cx="798.9" cy="396.5" rx="8.0" ry="2.6" fill="#fff" stroke="#111" stroke-width="1.10"/>
<path d="M818.4 404.5 C824.7 406.5 829.0 412.0 835.3 412.0 C843.7 412.0 852.2 405.5 860.6 405.5 L860.6 443.8 C850.0 444.8 845.8 449.3 837.4 449.3 C831.1 449.3 824.7 442.8 818.4 442.3 Z" fill="#fff" stroke="#111" stroke-width="1.20" stroke-linejoin="round"/>
<path d="M818.4 404.5 C826.8 403.5 829.0 398.0 839.5 398.0 C850.0 398.0 856.4 402.5 860.6 405.5" fill="#fff" stroke="#111" stroke-width="1.20" stroke-linejoin="round"/>
<path d="M831.8 402.5 L831.8 406.1 A8.2 2.6 0 0 0 848.2 406.1 L848.2 402.5 Z" fill="#fff" stroke="#111" stroke-width="1.10"/>
<ellipse cx="840.0" cy="402.5" rx="8.2" ry="2.6" fill="#fff" stroke="#111" stroke-width="1.10"/>
<path d="M871.2 405.5 C877.5 407.5 881.8 413.0 888.1 413.0 C896.6 413.0 905.0 406.5 913.5 406.5 L913.5 446.0 C902.9 447.0 898.7 451.5 890.2 451.5 C883.9 451.5 877.5 445.0 871.2 444.5 Z" fill="#fff" stroke="#111" stroke-width="1.20" stroke-linejoin="round"/>
<path d="M871.2 405.5 C879.7 404.5 881.8 399.0 892.4 399.0 C902.9 399.0 909.3 403.5 913.5 406.5" fill="#fff" stroke="#111" stroke-width="1.20" stroke-linejoin="round"/>
<path d="M886.4 403.5 L886.4 407.1 A8.2 2.6 0 0 0 902.9 407.1 L902.9 403.5 Z" fill="#fff" stroke="#111" stroke-width="1.10"/>
<ellipse cx="894.6" cy="403.5" rx="8.2" ry="2.6" fill="#fff" stroke="#111" stroke-width="1.10"/>
<path d="M927.8 404.5 C934.1 406.5 938.3 412.0 944.6 412.0 C953.0 412.0 961.4 405.5 969.8 405.5 L969.8 444.5 C959.3 445.5 955.1 450.0 946.7 450.0 C940.4 450.0 934.1 443.5 927.8 443.0 Z" fill="#fff" stroke="#111" stroke-width="1.20" stroke-linejoin="round"/>
<path d="M927.8 404.5 C936.2 403.5 938.3 398.0 948.8 398.0 C959.3 398.0 965.6 402.5 969.8 405.5" fill="#fff" stroke="#111" stroke-width="1.20" stroke-linejoin="round"/>
<path d="M939.8 400.5 L939.8 404.1 A8.2 2.6 0 0 0 956.2 404.1 L956.2 400.5 Z" fill="#fff" stroke="#111" stroke-width="1.10"/>
<ellipse cx="948.0" cy="400.5" rx="8.2" ry="2.6" fill="#fff" stroke="#111" stroke-width="1.10"/>
<path d="M977.6 399.7 C984.0 401.7 988.3 407.2 994.7 407.2 C1003.3 407.2 1011.8 400.7 1020.4 400.7 L1020.4 436.0 C1009.7 437.0 1005.4 441.5 996.9 441.5 C990.4 441.5 984.0 435.0 977.6 434.5 Z" fill="#fff" stroke="#111" stroke-width="1.20" stroke-linejoin="round"/>
<path d="M977.6 399.7 C986.2 398.7 988.3 393.2 999.0 393.2 C1009.7 393.2 1016.1 397.7 1020.4 400.7" fill="#fff" stroke="#111" stroke-width="1.20" stroke-linejoin="round"/>
<path d="M991.0 395.5 L991.0 399.1 A8.5 2.6 0 0 0 1008.0 399.1 L1008.0 395.5 Z" fill="#fff" stroke="#111" stroke-width="1.10"/>
<ellipse cx="999.5" cy="395.5" rx="8.5" ry="2.6" fill="#fff" stroke="#111" stroke-width="1.10"/>
</g>
<path d="M191.30 713.30h17.07v2.44h-17.07zM210.80 713.30h4.88v2.44h-4.88zM222.99 713.30h2.44v2.44h-2.44zM230.31 713.30h7.31v2.44h-7.31zM244.93 713.30h17.07v2.44h-17.07zM191.30 715.74h2.44v2.44h-2.44zM205.93 715.74h2.44v2.44h-2.44zM210.80 715.74h4.88v2.44h-4.88zM218.12 715.74h9.75v2.44h-9.75zM232.74 715.74h2.44v2.44h-2.44zM244.93 715.74h2.44v2.44h-2.44zM259.56 715.74h2.44v2.44h-2.44zM191.30 718.18h2.44v2.44h-2.44zM196.18 718.18h7.31v2.44h-7.31zM205.93 718.18h2.44v2.44h-2.44zM213.24 718.18h2.44v2.44h-2.44zM218.12 718.18h7.31v2.44h-7.31zM230.31 718.18h2.44v2.44h-2.44zM237.62 718.18h4.88v2.44h-4.88zM244.93 718.18h2.44v2.44h-2.44zM249.81 718.18h7.31v2.44h-7.31zM259.56 718.18h2.44v2.44h-2.44zM191.30 720.61h2.44v2.44h-2.44zM196.18 720.61h7.31v2.44h-7.31zM205.93 720.61h2.44v2.44h-2.44zM215.68 720.61h2.44v2.44h-2.44zM232.74 720.61h2.44v2.44h-2.44zM240.06 720.61h2.44v2.44h-2.44zM244.93 720.61h2.44v2.44h-2.44zM249.81 720.61h7.31v2.44h-7.31zM259.56 720.61h2.44v2.44h-2.44zM191.30 723.05h2.44v2.44h-2.44zM196.18 723.05h7.31v2.44h-7.31zM205.93 723.05h2.44v2.44h-2.44zM213.24 723.05h4.88v2.44h-4.88zM227.87 723.05h2.44v2.44h-2.44zM244.93 723.05h2.44v2.44h-2.44zM249.81 723.05h7.31v2.44h-7.31zM259.56 723.05h2.44v2.44h-2.44zM191.30 725.49h2.44v2.44h-2.44zM205.93 725.49h2.44v2.44h-2.44zM210.80 725.49h2.44v2.44h-2.44zM215.68 725.49h2.44v2.44h-2.44zM222.99 725.49h2.44v2.44h-2.44zM230.31 725.49h4.88v2.44h-4.88zM237.62 725.49h4.88v2.44h-4.88zM244.93 725.49h2.44v2.44h-2.44zM259.56 725.49h2.44v2.44h-2.44zM191.30 727.93h17.07v2.44h-17.07zM210.80 727.93h2.44v2.44h-2.44zM215.68 727.93h2.44v2.44h-2.44zM220.56 727.93h2.44v2.44h-2.44zM225.43 727.93h2.44v2.44h-2.44zM230.31 727.93h2.44v2.44h-2.44zM235.18 727.93h2.44v2.44h-2.44zM240.06 727.93h2.44v2.44h-2.44zM244.93 727.93h17.07v2.44h-17.07zM220.56 730.37h9.75v2.44h-9.75zM235.18 730.37h4.88v2.44h-4.88zM191.30 732.80h2.44v2.44h-2.44zM201.05 732.80h2.44v2.44h-2.44zM205.93 732.80h2.44v2.44h-2.44zM210.80 732.80h2.44v2.44h-2.44zM218.12 732.80h12.19v2.44h-12.19zM232.74 732.80h4.88v2.44h-4.88zM240.06 732.80h2.44v2.44h-2.44zM244.93 732.80h9.75v2.44h-9.75zM257.12 732.80h4.88v2.44h-4.88zM191.30 735.24h4.88v2.44h-4.88zM203.49 735.24h2.44v2.44h-2.44zM208.37 735.24h2.44v2.44h-2.44zM213.24 735.24h2.44v2.44h-2.44zM218.12 735.24h9.75v2.44h-9.75zM235.18 735.24h9.75v2.44h-9.75zM254.69 735.24h2.44v2.44h-2.44zM259.56 735.24h2.44v2.44h-2.44zM193.74 737.68h2.44v2.44h-2.44zM198.61 737.68h2.44v2.44h-2.44zM203.49 737.68h4.88v2.44h-4.88zM210.80 737.68h2.44v2.44h-2.44zM215.68 737.68h2.44v2.44h-2.44zM225.43 737.68h12.19v2.44h-12.19zM242.50 737.68h2.44v2.44h-2.44zM249.81 737.68h2.44v2.44h-2.44zM257.12 737.68h4.88v2.44h-4.88zM196.18 740.12h7.31v2.44h-7.31zM210.80 740.12h17.07v2.44h-17.07zM230.31 740.12h2.44v2.44h-2.44zM237.62 740.12h2.44v2.44h-2.44zM244.93 740.12h2.44v2.44h-2.44zM252.25 740.12h2.44v2.44h-2.44zM257.12 740.12h2.44v2.44h-2.44zM193.74 742.56h2.44v2.44h-2.44zM203.49 742.56h4.88v2.44h-4.88zM213.24 742.56h7.31v2.44h-7.31zM225.43 742.56h2.44v2.44h-2.44zM230.31 742.56h4.88v2.44h-4.88zM237.62 742.56h4.88v2.44h-4.88zM249.81 742.56h2.44v2.44h-2.44zM191.30 744.99h2.44v2.44h-2.44zM196.18 744.99h2.44v2.44h-2.44zM201.05 744.99h4.88v2.44h-4.88zM210.80 744.99h7.31v2.44h-7.31zM225.43 744.99h7.31v2.44h-7.31zM242.50 744.99h9.75v2.44h-9.75zM254.69 744.99h2.44v2.44h-2.44zM259.56 744.99h2.44v2.44h-2.44zM193.74 747.43h2.44v2.44h-2.44zM201.05 747.43h2.44v2.44h-2.44zM205.93 747.43h2.44v2.44h-2.44zM210.80 747.43h21.94v2.44h-21.94zM237.62 747.43h7.31v2.44h-7.31zM247.37 747.43h2.44v2.44h-2.44zM252.25 747.43h7.31v2.44h-7.31zM191.30 749.87h2.44v2.44h-2.44zM198.61 749.87h4.88v2.44h-4.88zM208.37 749.87h4.88v2.44h-4.88zM218.12 749.87h2.44v2.44h-2.44zM222.99 749.87h2.44v2.44h-2.44zM232.74 749.87h7.31v2.44h-7.31zM244.93 749.87h2.44v2.44h-2.44zM252.25 749.87h9.75v2.44h-9.75zM191.30 752.31h4.88v2.44h-4.88zM203.49 752.31h4.88v2.44h-4.88zM210.80 752.31h2.44v2.44h-2.44zM218.12 752.31h2.44v2.44h-2.44zM235.18 752.31h2.44v2.44h-2.44zM240.06 752.31h4.88v2.44h-4.88zM257.12 752.31h2.44v2.44h-2.44zM196.18 754.74h4.88v2.44h-4.88zM210.80 754.74h2.44v2.44h-2.44zM218.12 754.74h7.31v2.44h-7.31zM232.74 754.74h2.44v2.44h-2.44zM242.50 754.74h2.44v2.44h-2.44zM247.37 754.74h2.44v2.44h-2.44zM191.30 757.18h2.44v2.44h-2.44zM196.18 757.18h7.31v2.44h-7.31zM205.93 757.18h9.75v2.44h-9.75zM222.99 757.18h4.88v2.44h-4.88zM230.31 757.18h9.75v2.44h-9.75zM249.81 757.18h2.44v2.44h-2.44zM257.12 757.18h4.88v2.44h-4.88zM191.30 759.62h4.88v2.44h-4.88zM198.61 759.62h4.88v2.44h-4.88zM210.80 759.62h2.44v2.44h-2.44zM218.12 759.62h2.44v2.44h-2.44zM222.99 759.62h12.19v2.44h-12.19zM237.62 759.62h2.44v2.44h-2.44zM242.50 759.62h2.44v2.44h-2.44zM252.25 759.62h2.44v2.44h-2.44zM257.12 759.62h4.88v2.44h-4.88zM191.30 762.06h2.44v2.44h-2.44zM196.18 762.06h4.88v2.44h-4.88zM205.93 762.06h2.44v2.44h-2.44zM215.68 762.06h4.88v2.44h-4.88zM222.99 762.06h2.44v2.44h-2.44zM227.87 762.06h7.31v2.44h-7.31zM237.62 762.06h21.94v2.44h-21.94zM232.74 764.50h2.44v2.44h-2.44zM240.06 764.50h2.44v2.44h-2.44zM249.81 764.50h2.44v2.44h-2.44zM191.30 766.93h17.07v2.44h-17.07zM215.68 766.93h2.44v2.44h-2.44zM222.99 766.93h9.75v2.44h-9.75zM235.18 766.93h7.31v2.44h-7.31zM244.93 766.93h2.44v2.44h-2.44zM249.81 766.93h12.19v2.44h-12.19zM191.30 769.37h2.44v2.44h-2.44zM205.93 769.37h2.44v2.44h-2.44zM210.80 769.37h2.44v2.44h-2.44zM218.12 769.37h2.44v2.44h-2.44zM222.99 769.37h2.44v2.44h-2.44zM227.87 769.37h2.44v2.44h-2.44zM237.62 769.37h4.88v2.44h-4.88zM249.81 769.37h2.44v2.44h-2.44zM259.56 769.37h2.44v2.44h-2.44zM191.30 771.81h2.44v2.44h-2.44zM196.18 771.81h7.31v2.44h-7.31zM205.93 771.81h2.44v2.44h-2.44zM210.80 771.81h4.88v2.44h-4.88zM227.87 771.81h4.88v2.44h-4.88zM235.18 771.81h2.44v2.44h-2.44zM240.06 771.81h12.19v2.44h-12.19zM254.69 771.81h7.31v2.44h-7.31zM191.30 774.25h2.44v2.44h-2.44zM196.18 774.25h7.31v2.44h-7.31zM205.93 774.25h2.44v2.44h-2.44zM210.80 774.25h4.88v2.44h-4.88zM220.56 774.25h2.44v2.44h-2.44zM225.43 774.25h7.31v2.44h-7.31zM235.18 774.25h2.44v2.44h-2.44zM244.93 774.25h2.44v2.44h-2.44zM252.25 774.25h2.44v2.44h-2.44zM191.30 776.69h2.44v2.44h-2.44zM196.18 776.69h7.31v2.44h-7.31zM205.93 776.69h2.44v2.44h-2.44zM210.80 776.69h4.88v2.44h-4.88zM220.56 776.69h2.44v2.44h-2.44zM225.43 776.69h2.44v2.44h-2.44zM237.62 776.69h2.44v2.44h-2.44zM242.50 776.69h2.44v2.44h-2.44zM247.37 776.69h4.88v2.44h-4.88zM254.69 776.69h2.44v2.44h-2.44zM191.30 779.12h2.44v2.44h-2.44zM205.93 779.12h2.44v2.44h-2.44zM220.56 779.12h4.88v2.44h-4.88zM230.31 779.12h2.44v2.44h-2.44zM235.18 779.12h9.75v2.44h-9.75zM247.37 779.12h9.75v2.44h-9.75zM259.56 779.12h2.44v2.44h-2.44zM191.30 781.56h17.07v2.44h-17.07zM215.68 781.56h4.88v2.44h-4.88zM222.99 781.56h4.88v2.44h-4.88zM244.93 781.56h2.44v2.44h-2.44zM254.69 781.56h7.31v2.44h-7.31z" fill="#111"/>
<path d="M325.60 713.30h17.07v2.44h-17.07zM347.54 713.30h2.44v2.44h-2.44zM354.86 713.30h2.44v2.44h-2.44zM359.73 713.30h7.31v2.44h-7.31zM369.48 713.30h2.44v2.44h-2.44zM374.36 713.30h2.44v2.44h-2.44zM379.23 713.30h17.07v2.44h-17.07zM325.60 715.74h2.44v2.44h-2.44zM340.23 715.74h2.44v2.44h-2.44zM345.10 715.74h4.88v2.44h-4.88zM352.42 715.74h7.31v2.44h-7.31zM362.17 715.74h12.19v2.44h-12.19zM379.23 715.74h2.44v2.44h-2.44zM393.86 715.74h2.44v2.44h-2.44zM325.60 718.18h2.44v2.44h-2.44zM330.48 718.18h7.31v2.44h-7.31zM340.23 718.18h2.44v2.44h-2.44zM352.42 718.18h9.75v2.44h-9.75zM364.61 718.18h4.88v2.44h-4.88zM371.92 718.18h4.88v2.44h-4.88zM379.23 718.18h2.44v2.44h-2.44zM384.11 718.18h7.31v2.44h-7.31zM393.86 718.18h2.44v2.44h-2.44zM325.60 720.61h2.44v2.44h-2.44zM330.48 720.61h7.31v2.44h-7.31zM340.23 720.61h2.44v2.44h-2.44zM347.54 720.61h2.44v2.44h-2.44zM352.42 720.61h12.19v2.44h-12.19zM369.48 720.61h2.44v2.44h-2.44zM374.36 720.61h2.44v2.44h-2.44zM379.23 720.61h2.44v2.44h-2.44zM384.11 720.61h7.31v2.44h-7.31zM393.86 720.61h2.44v2.44h-2.44zM325.60 723.05h2.44v2.44h-2.44zM330.48 723.05h7.31v2.44h-7.31zM340.23 723.05h2.44v2.44h-2.44zM345.10 723.05h2.44v2.44h-2.44zM349.98 723.05h2.44v2.44h-2.44zM359.73 723.05h9.75v2.44h-9.75zM379.23 723.05h2.44v2.44h-2.44zM384.11 723.05h7.31v2.44h-7.31zM393.86 723.05h2.44v2.44h-2.44zM325.60 725.49h2.44v2.44h-2.44zM340.23 725.49h2.44v2.44h-2.44zM345.10 725.49h2.44v2.44h-2.44zM357.29 725.49h4.88v2.44h-4.88zM369.48 725.49h2.44v2.44h-2.44zM374.36 725.49h2.44v2.44h-2.44zM379.23 725.49h2.44v2.44h-2.44zM393.86 725.49h2.44v2.44h-2.44zM325.60 727.93h17.07v2.44h-17.07zM345.10 727.93h2.44v2.44h-2.44zM349.98 727.93h2.44v2.44h-2.44zM354.86 727.93h2.44v2.44h-2.44zM359.73 727.93h2.44v2.44h-2.44zM364.61 727.93h2.44v2.44h-2.44zM369.48 727.93h2.44v2.44h-2.44zM374.36 727.93h2.44v2.44h-2.44zM379.23 727.93h17.07v2.44h-17.07zM349.98 730.37h4.88v2.44h-4.88zM359.73 730.37h7.31v2.44h-7.31zM369.48 730.37h2.44v2.44h-2.44zM374.36 730.37h2.44v2.44h-2.44zM325.60 732.80h4.88v2.44h-4.88zM335.35 732.80h7.31v2.44h-7.31zM347.54 732.80h2.44v2.44h-2.44zM354.86 732.80h2.44v2.44h-2.44zM362.17 732.80h4.88v2.44h-4.88zM374.36 732.80h2.44v2.44h-2.44zM379.23 732.80h2.44v2.44h-2.44zM386.55 732.80h9.75v2.44h-9.75zM325.60 735.24h12.19v2.44h-12.19zM347.54 735.24h2.44v2.44h-2.44zM354.86 735.24h2.44v2.44h-2.44zM359.73 735.24h2.44v2.44h-2.44zM367.04 735.24h14.63v2.44h-14.63zM386.55 735.24h2.44v2.44h-2.44zM391.42 735.24h2.44v2.44h-2.44zM330.48 737.68h2.44v2.44h-2.44zM337.79 737.68h12.19v2.44h-12.19zM352.42 737.68h2.44v2.44h-2.44zM359.73 737.68h2.44v2.44h-2.44zM364.61 737.68h2.44v2.44h-2.44zM376.80 737.68h2.44v2.44h-2.44zM381.67 737.68h2.44v2.44h-2.44zM386.55 737.68h9.75v2.44h-9.75zM328.04 740.12h9.75v2.44h-9.75zM349.98 740.12h7.31v2.44h-7.31zM367.04 740.12h2.44v2.44h-2.44zM374.36 740.12h2.44v2.44h-2.44zM384.11 740.12h9.75v2.44h-9.75zM335.35 742.56h12.19v2.44h-12.19zM352.42 742.56h4.88v2.44h-4.88zM359.73 742.56h2.44v2.44h-2.44zM364.61 742.56h2.44v2.44h-2.44zM376.80 742.56h7.31v2.44h-7.31zM386.55 742.56h9.75v2.44h-9.75zM325.60 744.99h2.44v2.44h-2.44zM337.79 744.99h2.44v2.44h-2.44zM345.10 744.99h2.44v2.44h-2.44zM349.98 744.99h2.44v2.44h-2.44zM354.86 744.99h2.44v2.44h-2.44zM367.04 744.99h2.44v2.44h-2.44zM381.67 744.99h2.44v2.44h-2.44zM386.55 744.99h2.44v2.44h-2.44zM391.42 744.99h2.44v2.44h-2.44zM325.60 747.43h2.44v2.44h-2.44zM330.48 747.43h12.19v2.44h-12.19zM349.98 747.43h2.44v2.44h-2.44zM359.73 747.43h2.44v2.44h-2.44zM369.48 747.43h4.88v2.44h-4.88zM379.23 747.43h2.44v2.44h-2.44zM384.11 747.43h2.44v2.44h-2.44zM388.99 747.43h2.44v2.44h-2.44zM325.60 749.87h2.44v2.44h-2.44zM330.48 749.87h2.44v2.44h-2.44zM337.79 749.87h2.44v2.44h-2.44zM345.10 749.87h12.19v2.44h-12.19zM359.73 749.87h2.44v2.44h-2.44zM367.04 749.87h2.44v2.44h-2.44zM374.36 749.87h4.88v2.44h-4.88zM330.48 752.31h2.44v2.44h-2.44zM337.79 752.31h7.31v2.44h-7.31zM352.42 752.31h2.44v2.44h-2.44zM367.04 752.31h4.88v2.44h-4.88zM376.80 752.31h17.07v2.44h-17.07zM325.60 754.74h2.44v2.44h-2.44zM330.48 754.74h4.88v2.44h-4.88zM337.79 754.74h2.44v2.44h-2.44zM342.67 754.74h7.31v2.44h-7.31zM352.42 754.74h2.44v2.44h-2.44zM359.73 754.74h2.44v2.44h-2.44zM364.61 754.74h2.44v2.44h-2.44zM371.92 754.74h2.44v2.44h-2.44zM379.23 754.74h2.44v2.44h-2.44zM384.11 754.74h4.88v2.44h-4.88zM393.86 754.74h2.44v2.44h-2.44zM330.48 757.18h7.31v2.44h-7.31zM340.23 757.18h2.44v2.44h-2.44zM345.10 757.18h4.88v2.44h-4.88zM352.42 757.18h7.31v2.44h-7.31zM367.04 757.18h7.31v2.44h-7.31zM376.80 757.18h2.44v2.44h-2.44zM388.99 757.18h2.44v2.44h-2.44zM330.48 759.62h7.31v2.44h-7.31zM342.67 759.62h2.44v2.44h-2.44zM352.42 759.62h4.88v2.44h-4.88zM359.73 759.62h4.88v2.44h-4.88zM369.48 759.62h2.44v2.44h-2.44zM374.36 759.62h7.31v2.44h-7.31zM384.11 759.62h2.44v2.44h-2.44zM388.99 759.62h2.44v2.44h-2.44zM393.86 759.62h2.44v2.44h-2.44zM330.48 762.06h2.44v2.44h-2.44zM335.35 762.06h12.19v2.44h-12.19zM349.98 762.06h2.44v2.44h-2.44zM357.29 762.06h2.44v2.44h-2.44zM367.04 762.06h2.44v2.44h-2.44zM371.92 762.06h24.38v2.44h-24.38zM349.98 764.50h2.44v2.44h-2.44zM357.29 764.50h2.44v2.44h-2.44zM362.17 764.50h4.88v2.44h-4.88zM369.48 764.50h7.31v2.44h-7.31zM384.11 764.50h4.88v2.44h-4.88zM393.86 764.50h2.44v2.44h-2.44zM325.60 766.93h17.07v2.44h-17.07zM347.54 766.93h7.31v2.44h-7.31zM359.73 766.93h2.44v2.44h-2.44zM364.61 766.93h7.31v2.44h-7.31zM374.36 766.93h2.44v2.44h-2.44zM379.23 766.93h2.44v2.44h-2.44zM384.11 766.93h4.88v2.44h-4.88zM391.42 766.93h4.88v2.44h-4.88zM325.60 769.37h2.44v2.44h-2.44zM340.23 769.37h2.44v2.44h-2.44zM347.54 769.37h2.44v2.44h-2.44zM354.86 769.37h12.19v2.44h-12.19zM369.48 769.37h2.44v2.44h-2.44zM374.36 769.37h2.44v2.44h-2.44zM384.11 769.37h4.88v2.44h-4.88zM325.60 771.81h2.44v2.44h-2.44zM330.48 771.81h7.31v2.44h-7.31zM340.23 771.81h2.44v2.44h-2.44zM345.10 771.81h2.44v2.44h-2.44zM352.42 771.81h2.44v2.44h-2.44zM359.73 771.81h2.44v2.44h-2.44zM371.92 771.81h14.63v2.44h-14.63zM391.42 771.81h2.44v2.44h-2.44zM325.60 774.25h2.44v2.44h-2.44zM330.48 774.25h7.31v2.44h-7.31zM340.23 774.25h2.44v2.44h-2.44zM347.54 774.25h7.31v2.44h-7.31zM364.61 774.25h14.63v2.44h-14.63zM393.86 774.25h2.44v2.44h-2.44zM325.60 776.69h2.44v2.44h-2.44zM330.48 776.69h7.31v2.44h-7.31zM340.23 776.69h2.44v2.44h-2.44zM347.54 776.69h2.44v2.44h-2.44zM357.29 776.69h2.44v2.44h-2.44zM362.17 776.69h9.75v2.44h-9.75zM376.80 776.69h2.44v2.44h-2.44zM386.55 776.69h9.75v2.44h-9.75zM325.60 779.12h2.44v2.44h-2.44zM340.23 779.12h2.44v2.44h-2.44zM345.10 779.12h2.44v2.44h-2.44zM354.86 779.12h2.44v2.44h-2.44zM359.73 779.12h2.44v2.44h-2.44zM371.92 779.12h7.31v2.44h-7.31zM393.86 779.12h2.44v2.44h-2.44zM325.60 781.56h17.07v2.44h-17.07zM345.10 781.56h2.44v2.44h-2.44zM357.29 781.56h2.44v2.44h-2.44zM362.17 781.56h4.88v2.44h-4.88zM369.48 781.56h2.44v2.44h-2.44zM376.80 781.56h7.31v2.44h-7.31zM388.99 781.56h7.31v2.44h-7.31z" fill="#111"/>
<path d="M459.90 713.30h17.07v2.44h-17.07zM479.40 713.30h2.44v2.44h-2.44zM484.28 713.30h2.44v2.44h-2.44zM491.59 713.30h2.44v2.44h-2.44zM498.91 713.30h2.44v2.44h-2.44zM513.53 713.30h17.07v2.44h-17.07zM459.90 715.74h2.44v2.44h-2.44zM474.53 715.74h2.44v2.44h-2.44zM481.84 715.74h7.31v2.44h-7.31zM496.47 715.74h2.44v2.44h-2.44zM501.34 715.74h2.44v2.44h-2.44zM506.22 715.74h2.44v2.44h-2.44zM513.53 715.74h2.44v2.44h-2.44zM528.16 715.74h2.44v2.44h-2.44zM459.90 718.18h2.44v2.44h-2.44zM464.78 718.18h7.31v2.44h-7.31zM474.53 718.18h2.44v2.44h-2.44zM484.28 718.18h7.31v2.44h-7.31zM498.91 718.18h4.88v2.44h-4.88zM506.22 718.18h4.88v2.44h-4.88zM513.53 718.18h2.44v2.44h-2.44zM518.41 718.18h7.31v2.44h-7.31zM528.16 718.18h2.44v2.44h-2.44zM459.90 720.61h2.44v2.44h-2.44zM464.78 720.61h7.31v2.44h-7.31zM474.53 720.61h2.44v2.44h-2.44zM484.28 720.61h2.44v2.44h-2.44zM489.16 720.61h2.44v2.44h-2.44zM501.34 720.61h2.44v2.44h-2.44zM506.22 720.61h2.44v2.44h-2.44zM513.53 720.61h2.44v2.44h-2.44zM518.41 720.61h7.31v2.44h-7.31zM528.16 720.61h2.44v2.44h-2.44zM459.90 723.05h2.44v2.44h-2.44zM464.78 723.05h7.31v2.44h-7.31zM474.53 723.05h2.44v2.44h-2.44zM484.28 723.05h2.44v2.44h-2.44zM503.78 723.05h2.44v2.44h-2.44zM513.53 723.05h2.44v2.44h-2.44zM518.41 723.05h7.31v2.44h-7.31zM528.16 723.05h2.44v2.44h-2.44zM459.90 725.49h2.44v2.44h-2.44zM474.53 725.49h2.44v2.44h-2.44zM479.40 725.49h4.88v2.44h-4.88zM489.16 725.49h4.88v2.44h-4.88zM498.91 725.49h4.88v2.44h-4.88zM506.22 725.49h4.88v2.44h-4.88zM513.53 725.49h2.44v2.44h-2.44zM528.16 725.49h2.44v2.44h-2.44zM459.90 727.93h17.07v2.44h-17.07zM479.40 727.93h2.44v2.44h-2.44zM484.28 727.93h2.44v2.44h-2.44zM489.16 727.93h2.44v2.44h-2.44zM494.03 727.93h2.44v2.44h-2.44zM498.91 727.93h2.44v2.44h-2.44zM503.78 727.93h2.44v2.44h-2.44zM508.66 727.93h2.44v2.44h-2.44zM513.53 727.93h17.07v2.44h-17.07zM479.40 730.37h24.38v2.44h-24.38zM506.22 730.37h4.88v2.44h-4.88zM459.90 732.80h4.88v2.44h-4.88zM467.21 732.80h4.88v2.44h-4.88zM474.53 732.80h2.44v2.44h-2.44zM479.40 732.80h2.44v2.44h-2.44zM486.72 732.80h7.31v2.44h-7.31zM496.47 732.80h2.44v2.44h-2.44zM506.22 732.80h9.75v2.44h-9.75zM459.90 735.24h2.44v2.44h-2.44zM464.78 735.24h2.44v2.44h-2.44zM476.97 735.24h4.88v2.44h-4.88zM484.28 735.24h4.88v2.44h-4.88zM491.59 735.24h2.44v2.44h-2.44zM498.91 735.24h4.88v2.44h-4.88zM506.22 735.24h9.75v2.44h-9.75zM518.41 735.24h2.44v2.44h-2.44zM525.72 735.24h2.44v2.44h-2.44zM459.90 737.68h2.44v2.44h-2.44zM469.65 737.68h2.44v2.44h-2.44zM474.53 737.68h2.44v2.44h-2.44zM481.84 737.68h4.88v2.44h-4.88zM498.91 737.68h2.44v2.44h-2.44zM503.78 737.68h2.44v2.44h-2.44zM511.10 737.68h9.75v2.44h-9.75zM523.29 737.68h2.44v2.44h-2.44zM528.16 737.68h2.44v2.44h-2.44zM459.90 740.12h7.31v2.44h-7.31zM469.65 740.12h4.88v2.44h-4.88zM476.97 740.12h4.88v2.44h-4.88zM484.28 740.12h4.88v2.44h-4.88zM491.59 740.12h4.88v2.44h-4.88zM501.34 740.12h4.88v2.44h-4.88zM518.41 740.12h4.88v2.44h-4.88zM525.72 740.12h4.88v2.44h-4.88zM459.90 742.56h4.88v2.44h-4.88zM469.65 742.56h7.31v2.44h-7.31zM494.03 742.56h4.88v2.44h-4.88zM506.22 742.56h2.44v2.44h-2.44zM513.53 742.56h9.75v2.44h-9.75zM467.21 744.99h2.44v2.44h-2.44zM476.97 744.99h2.44v2.44h-2.44zM481.84 744.99h4.88v2.44h-4.88zM489.16 744.99h2.44v2.44h-2.44zM494.03 744.99h7.31v2.44h-7.31zM503.78 744.99h7.31v2.44h-7.31zM513.53 744.99h2.44v2.44h-2.44zM518.41 744.99h7.31v2.44h-7.31zM462.34 747.43h4.88v2.44h-4.88zM474.53 747.43h2.44v2.44h-2.44zM479.40 747.43h4.88v2.44h-4.88zM486.72 747.43h2.44v2.44h-2.44zM491.59 747.43h4.88v2.44h-4.88zM498.91 747.43h2.44v2.44h-2.44zM506.22 747.43h7.31v2.44h-7.31zM523.29 747.43h2.44v2.44h-2.44zM459.90 749.87h4.88v2.44h-4.88zM469.65 749.87h4.88v2.44h-4.88zM476.97 749.87h9.75v2.44h-9.75zM489.16 749.87h2.44v2.44h-2.44zM494.03 749.87h2.44v2.44h-2.44zM501.34 749.87h4.88v2.44h-4.88zM508.66 749.87h7.31v2.44h-7.31zM518.41 749.87h2.44v2.44h-2.44zM525.72 749.87h2.44v2.44h-2.44zM472.09 752.31h7.31v2.44h-7.31zM481.84 752.31h2.44v2.44h-2.44zM491.59 752.31h2.44v2.44h-2.44zM503.78 752.31h2.44v2.44h-2.44zM511.10 752.31h2.44v2.44h-2.44zM515.97 752.31h2.44v2.44h-2.44zM523.29 752.31h4.88v2.44h-4.88zM459.90 754.74h4.88v2.44h-4.88zM467.21 754.74h4.88v2.44h-4.88zM481.84 754.74h2.44v2.44h-2.44zM486.72 754.74h2.44v2.44h-2.44zM491.59 754.74h7.31v2.44h-7.31zM501.34 754.74h2.44v2.44h-2.44zM506.22 754.74h2.44v2.44h-2.44zM511.10 754.74h4.88v2.44h-4.88zM518.41 754.74h4.88v2.44h-4.88zM525.72 754.74h4.88v2.44h-4.88zM474.53 757.18h2.44v2.44h-2.44zM486.72 757.18h4.88v2.44h-4.88zM494.03 757.18h4.88v2.44h-4.88zM506.22 757.18h2.44v2.44h-2.44zM459.90 759.62h4.88v2.44h-4.88zM472.09 759.62h2.44v2.44h-2.44zM476.97 759.62h4.88v2.44h-4.88zM484.28 759.62h7.31v2.44h-7.31zM494.03 759.62h2.44v2.44h-2.44zM498.91 759.62h4.88v2.44h-4.88zM508.66 759.62h4.88v2.44h-4.88zM518.41 759.62h2.44v2.44h-2.44zM459.90 762.06h7.31v2.44h-7.31zM472.09 762.06h4.88v2.44h-4.88zM479.40 762.06h4.88v2.44h-4.88zM486.72 762.06h2.44v2.44h-2.44zM491.59 762.06h4.88v2.44h-4.88zM508.66 762.06h17.07v2.44h-17.07zM481.84 764.50h2.44v2.44h-2.44zM489.16 764.50h7.31v2.44h-7.31zM498.91 764.50h2.44v2.44h-2.44zM508.66 764.50h2.44v2.44h-2.44zM518.41 764.50h2.44v2.44h-2.44zM525.72 764.50h4.88v2.44h-4.88zM459.90 766.93h17.07v2.44h-17.07zM479.40 766.93h4.88v2.44h-4.88zM496.47 766.93h2.44v2.44h-2.44zM503.78 766.93h2.44v2.44h-2.44zM508.66 766.93h2.44v2.44h-2.44zM513.53 766.93h2.44v2.44h-2.44zM518.41 766.93h4.88v2.44h-4.88zM525.72 766.93h4.88v2.44h-4.88zM459.90 769.37h2.44v2.44h-2.44zM474.53 769.37h2.44v2.44h-2.44zM479.40 769.37h2.44v2.44h-2.44zM484.28 769.37h4.88v2.44h-4.88zM494.03 769.37h2.44v2.44h-2.44zM501.34 769.37h2.44v2.44h-2.44zM508.66 769.37h2.44v2.44h-2.44zM518.41 769.37h2.44v2.44h-2.44zM523.29 769.37h2.44v2.44h-2.44zM528.16 769.37h2.44v2.44h-2.44zM459.90 771.81h2.44v2.44h-2.44zM464.78 771.81h7.31v2.44h-7.31zM474.53 771.81h2.44v2.44h-2.44zM479.40 771.81h2.44v2.44h-2.44zM486.72 771.81h2.44v2.44h-2.44zM491.59 771.81h2.44v2.44h-2.44zM498.91 771.81h4.88v2.44h-4.88zM508.66 771.81h17.07v2.44h-17.07zM459.90 774.25h2.44v2.44h-2.44zM464.78 774.25h7.31v2.44h-7.31zM474.53 774.25h2.44v2.44h-2.44zM484.28 774.25h2.44v2.44h-2.44zM491.59 774.25h7.31v2.44h-7.31zM501.34 774.25h2.44v2.44h-2.44zM506.22 774.25h2.44v2.44h-2.44zM513.53 774.25h9.75v2.44h-9.75zM525.72 774.25h4.88v2.44h-4.88zM459.90 776.69h2.44v2.44h-2.44zM464.78 776.69h7.31v2.44h-7.31zM474.53 776.69h2.44v2.44h-2.44zM484.28 776.69h4.88v2.44h-4.88zM491.59 776.69h4.88v2.44h-4.88zM501.34 776.69h4.88v2.44h-4.88zM513.53 776.69h2.44v2.44h-2.44zM523.29 776.69h7.31v2.44h-7.31zM459.90 779.12h2.44v2.44h-2.44zM474.53 779.12h2.44v2.44h-2.44zM479.40 779.12h2.44v2.44h-2.44zM486.72 779.12h4.88v2.44h-4.88zM494.03 779.12h7.31v2.44h-7.31zM503.78 779.12h2.44v2.44h-2.44zM511.10 779.12h2.44v2.44h-2.44zM525.72 779.12h2.44v2.44h-2.44zM459.90 781.56h17.07v2.44h-17.07zM479.40 781.56h7.31v2.44h-7.31zM494.03 781.56h2.44v2.44h-2.44zM508.66 781.56h2.44v2.44h-2.44zM515.97 781.56h2.44v2.44h-2.44zM523.29 781.56h7.31v2.44h-7.31z" fill="#111"/>
<path d="M594.20 713.30h17.07v2.44h-17.07zM616.14 713.30h2.44v2.44h-2.44zM623.46 713.30h4.88v2.44h-4.88zM630.77 713.30h4.88v2.44h-4.88zM640.52 713.30h4.88v2.44h-4.88zM647.83 713.30h17.07v2.44h-17.07zM594.20 715.74h2.44v2.44h-2.44zM608.83 715.74h2.44v2.44h-2.44zM613.70 715.74h2.44v2.44h-2.44zM618.58 715.74h9.75v2.44h-9.75zM630.77 715.74h4.88v2.44h-4.88zM640.52 715.74h2.44v2.44h-2.44zM647.83 715.74h2.44v2.44h-2.44zM662.46 715.74h2.44v2.44h-2.44zM594.20 718.18h2.44v2.44h-2.44zM599.08 718.18h7.31v2.44h-7.31zM608.83 718.18h2.44v2.44h-2.44zM618.58 718.18h4.88v2.44h-4.88zM630.77 718.18h9.75v2.44h-9.75zM647.83 718.18h2.44v2.44h-2.44zM652.71 718.18h7.31v2.44h-7.31zM662.46 718.18h2.44v2.44h-2.44zM594.20 720.61h2.44v2.44h-2.44zM599.08 720.61h7.31v2.44h-7.31zM608.83 720.61h2.44v2.44h-2.44zM621.02 720.61h14.63v2.44h-14.63zM638.08 720.61h2.44v2.44h-2.44zM647.83 720.61h2.44v2.44h-2.44zM652.71 720.61h7.31v2.44h-7.31zM662.46 720.61h2.44v2.44h-2.44zM594.20 723.05h2.44v2.44h-2.44zM599.08 723.05h7.31v2.44h-7.31zM608.83 723.05h2.44v2.44h-2.44zM613.70 723.05h4.88v2.44h-4.88zM630.77 723.05h2.44v2.44h-2.44zM638.08 723.05h2.44v2.44h-2.44zM642.96 723.05h2.44v2.44h-2.44zM647.83 723.05h2.44v2.44h-2.44zM652.71 723.05h7.31v2.44h-7.31zM662.46 723.05h2.44v2.44h-2.44zM594.20 725.49h2.44v2.44h-2.44zM608.83 725.49h2.44v2.44h-2.44zM616.14 725.49h7.31v2.44h-7.31zM635.64 725.49h4.88v2.44h-4.88zM647.83 725.49h2.44v2.44h-2.44zM662.46 725.49h2.44v2.44h-2.44zM594.20 727.93h17.07v2.44h-17.07zM613.70 727.93h2.44v2.44h-2.44zM618.58 727.93h2.44v2.44h-2.44zM623.46 727.93h2.44v2.44h-2.44zM628.33 727.93h2.44v2.44h-2.44zM633.21 727.93h2.44v2.44h-2.44zM638.08 727.93h2.44v2.44h-2.44zM642.96 727.93h2.44v2.44h-2.44zM647.83 727.93h17.07v2.44h-17.07zM613.70 730.37h7.31v2.44h-7.31zM625.89 730.37h2.44v2.44h-2.44zM638.08 730.37h2.44v2.44h-2.44zM642.96 730.37h2.44v2.44h-2.44zM594.20 732.80h2.44v2.44h-2.44zM599.08 732.80h2.44v2.44h-2.44zM608.83 732.80h2.44v2.44h-2.44zM613.70 732.80h4.88v2.44h-4.88zM621.02 732.80h4.88v2.44h-4.88zM630.77 732.80h7.31v2.44h-7.31zM640.52 732.80h2.44v2.44h-2.44zM647.83 732.80h4.88v2.44h-4.88zM655.15 732.80h2.44v2.44h-2.44zM660.02 732.80h2.44v2.44h-2.44zM594.20 735.24h4.88v2.44h-4.88zM616.14 735.24h14.63v2.44h-14.63zM635.64 735.24h4.88v2.44h-4.88zM647.83 735.24h4.88v2.44h-4.88zM596.64 737.68h7.31v2.44h-7.31zM608.83 737.68h2.44v2.44h-2.44zM616.14 737.68h4.88v2.44h-4.88zM635.64 737.68h4.88v2.44h-4.88zM645.40 737.68h2.44v2.44h-2.44zM650.27 737.68h2.44v2.44h-2.44zM655.15 737.68h7.31v2.44h-7.31zM601.51 740.12h7.31v2.44h-7.31zM611.27 740.12h4.88v2.44h-4.88zM618.58 740.12h4.88v2.44h-4.88zM625.89 740.12h9.75v2.44h-9.75zM638.08 740.12h7.31v2.44h-7.31zM647.83 740.12h2.44v2.44h-2.44zM652.71 740.12h2.44v2.44h-2.44zM596.64 742.56h4.88v2.44h-4.88zM603.95 742.56h2.44v2.44h-2.44zM608.83 742.56h2.44v2.44h-2.44zM625.89 742.56h9.75v2.44h-9.75zM640.52 742.56h7.31v2.44h-7.31zM650.27 742.56h7.31v2.44h-7.31zM594.20 744.99h2.44v2.44h-2.44zM599.08 744.99h4.88v2.44h-4.88zM606.39 744.99h2.44v2.44h-2.44zM611.27 744.99h4.88v2.44h-4.88zM625.89 744.99h2.44v2.44h-2.44zM633.21 744.99h4.88v2.44h-4.88zM640.52 744.99h2.44v2.44h-2.44zM652.71 744.99h2.44v2.44h-2.44zM594.20 747.43h7.31v2.44h-7.31zM606.39 747.43h4.88v2.44h-4.88zM613.70 747.43h19.50v2.44h-19.50zM642.96 747.43h4.88v2.44h-4.88zM655.15 747.43h7.31v2.44h-7.31zM594.20 749.87h12.19v2.44h-12.19zM616.14 749.87h7.31v2.44h-7.31zM625.89 749.87h2.44v2.44h-2.44zM630.77 749.87h2.44v2.44h-2.44zM635.64 749.87h4.88v2.44h-4.88zM645.40 749.87h4.88v2.44h-4.88zM655.15 749.87h2.44v2.44h-2.44zM662.46 749.87h2.44v2.44h-2.44zM596.64 752.31h2.44v2.44h-2.44zM601.51 752.31h4.88v2.44h-4.88zM608.83 752.31h4.88v2.44h-4.88zM621.02 752.31h2.44v2.44h-2.44zM628.33 752.31h2.44v2.44h-2.44zM635.64 752.31h4.88v2.44h-4.88zM645.40 752.31h2.44v2.44h-2.44zM650.27 752.31h2.44v2.44h-2.44zM596.64 754.74h2.44v2.44h-2.44zM601.51 754.74h2.44v2.44h-2.44zM611.27 754.74h2.44v2.44h-2.44zM618.58 754.74h2.44v2.44h-2.44zM623.46 754.74h2.44v2.44h-2.44zM628.33 754.74h2.44v2.44h-2.44zM633.21 754.74h2.44v2.44h-2.44zM638.08 754.74h7.31v2.44h-7.31zM655.15 754.74h7.31v2.44h-7.31zM596.64 757.18h2.44v2.44h-2.44zM601.51 757.18h2.44v2.44h-2.44zM606.39 757.18h7.31v2.44h-7.31zM616.14 757.18h2.44v2.44h-2.44zM623.46 757.18h4.88v2.44h-4.88zM633.21 757.18h2.44v2.44h-2.44zM647.83 757.18h2.44v2.44h-2.44zM655.15 757.18h2.44v2.44h-2.44zM660.02 757.18h4.88v2.44h-4.88zM594.20 759.62h7.31v2.44h-7.31zM621.02 759.62h2.44v2.44h-2.44zM628.33 759.62h2.44v2.44h-2.44zM635.64 759.62h2.44v2.44h-2.44zM640.52 759.62h2.44v2.44h-2.44zM652.71 759.62h2.44v2.44h-2.44zM657.59 759.62h2.44v2.44h-2.44zM596.64 762.06h2.44v2.44h-2.44zM603.95 762.06h9.75v2.44h-9.75zM616.14 762.06h2.44v2.44h-2.44zM623.46 762.06h2.44v2.44h-2.44zM628.33 762.06h2.44v2.44h-2.44zM635.64 762.06h21.94v2.44h-21.94zM660.02 762.06h2.44v2.44h-2.44zM613.70 764.50h4.88v2.44h-4.88zM625.89 764.50h2.44v2.44h-2.44zM633.21 764.50h2.44v2.44h-2.44zM638.08 764.50h7.31v2.44h-7.31zM652.71 764.50h2.44v2.44h-2.44zM662.46 764.50h2.44v2.44h-2.44zM594.20 766.93h17.07v2.44h-17.07zM616.14 766.93h4.88v2.44h-4.88zM623.46 766.93h2.44v2.44h-2.44zM630.77 766.93h2.44v2.44h-2.44zM638.08 766.93h2.44v2.44h-2.44zM642.96 766.93h2.44v2.44h-2.44zM647.83 766.93h2.44v2.44h-2.44zM652.71 766.93h2.44v2.44h-2.44zM657.59 766.93h2.44v2.44h-2.44zM662.46 766.93h2.44v2.44h-2.44zM594.20 769.37h2.44v2.44h-2.44zM608.83 769.37h2.44v2.44h-2.44zM613.70 769.37h2.44v2.44h-2.44zM621.02 769.37h7.31v2.44h-7.31zM630.77 769.37h4.88v2.44h-4.88zM638.08 769.37h7.31v2.44h-7.31zM652.71 769.37h4.88v2.44h-4.88zM660.02 769.37h2.44v2.44h-2.44zM594.20 771.81h2.44v2.44h-2.44zM599.08 771.81h7.31v2.44h-7.31zM608.83 771.81h2.44v2.44h-2.44zM616.14 771.81h2.44v2.44h-2.44zM621.02 771.81h7.31v2.44h-7.31zM630.77 771.81h2.44v2.44h-2.44zM638.08 771.81h2.44v2.44h-2.44zM642.96 771.81h17.07v2.44h-17.07zM662.46 771.81h2.44v2.44h-2.44zM594.20 774.25h2.44v2.44h-2.44zM599.08 774.25h7.31v2.44h-7.31zM608.83 774.25h2.44v2.44h-2.44zM621.02 774.25h7.31v2.44h-7.31zM630.77 774.25h9.75v2.44h-9.75zM647.83 774.25h4.88v2.44h-4.88zM594.20 776.69h2.44v2.44h-2.44zM599.08 776.69h7.31v2.44h-7.31zM608.83 776.69h2.44v2.44h-2.44zM616.14 776.69h2.44v2.44h-2.44zM621.02 776.69h9.75v2.44h-9.75zM635.64 776.69h2.44v2.44h-2.44zM650.27 776.69h14.63v2.44h-14.63zM594.20 779.12h2.44v2.44h-2.44zM608.83 779.12h2.44v2.44h-2.44zM616.14 779.12h12.19v2.44h-12.19zM630.77 779.12h2.44v2.44h-2.44zM635.64 779.12h4.88v2.44h-4.88zM642.96 779.12h2.44v2.44h-2.44zM657.59 779.12h2.44v2.44h-2.44zM662.46 779.12h2.44v2.44h-2.44zM594.20 781.56h17.07v2.44h-17.07zM613.70 781.56h2.44v2.44h-2.44zM621.02 781.56h2.44v2.44h-2.44zM625.89 781.56h4.88v2.44h-4.88zM635.64 781.56h2.44v2.44h-2.44zM640.52 781.56h2.44v2.44h-2.44zM650.27 781.56h7.31v2.44h-7.31zM662.46 781.56h2.44v2.44h-2.44z" fill="#111"/>
<g class="sans" font-weight="bold" font-size="20" fill="#111">
<text x="192" y="696.7" textLength="70.5" lengthAdjust="spacingAndGlyphs">802090</text>
<text x="325.7" y="696.7" textLength="69.8" lengthAdjust="spacingAndGlyphs">802091</text>
<text x="460" y="696.7" textLength="69.4" lengthAdjust="spacingAndGlyphs">802093</text>
<text x="594.8" y="696.7" textLength="69" lengthAdjust="spacingAndGlyphs">802097</text>
</g>
</svg>
</body></html>
